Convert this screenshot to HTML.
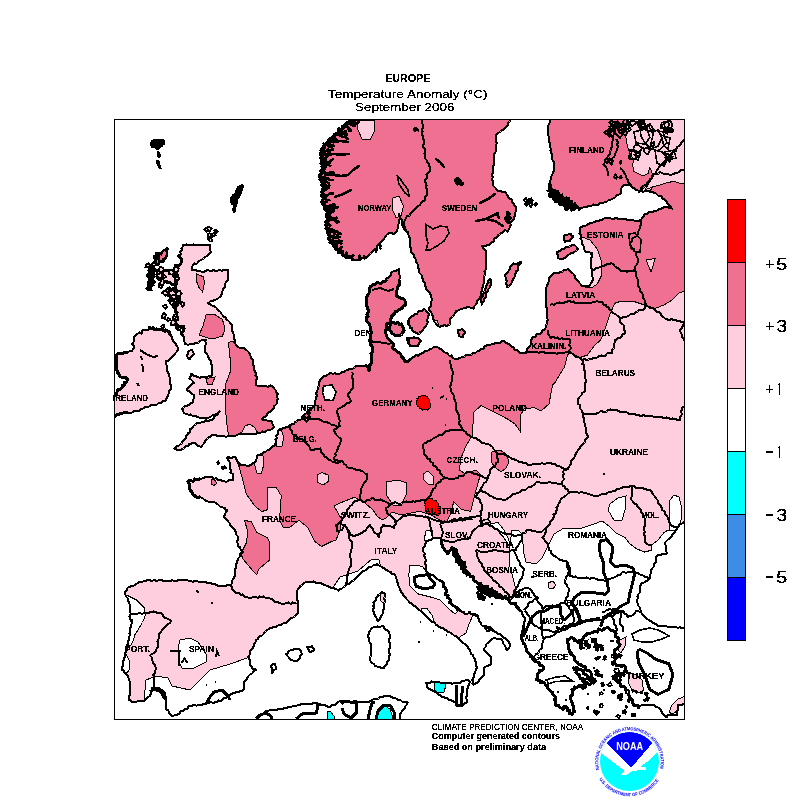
<!DOCTYPE html><html><head><meta charset="utf-8"><style>html,body{margin:0;padding:0;background:#fff}svg{display:block}text{font-family:"Liberation Sans",Arial,sans-serif}</style></head><body>
<svg width="800" height="800" viewBox="0 0 800 800" shape-rendering="crispEdges">
<defs><filter id="crisp" filterUnits="userSpaceOnUse" x="0" y="0" width="800" height="800"><feComponentTransfer><feFuncA type="discrete" tableValues="0 1 1"/></feComponentTransfer></filter><clipPath id="fr"><rect x="114.5" y="119.5" width="570" height="600"/></clipPath>
<path id="coastp" d="M352,100 L352,102 L352,103.5 L352,105.5 L352,107.5 L352,109 L352.5,111 L352.5,112.5 L352.5,114.5 L352.5,116.5 L353,118 L352.5,120 L350.5,120.5 L350.5,123.5 L348,123 L347,124.5 L345,125 L345,127.5 L342.5,127.5 L342.5,130 L340,130 L340,132.5 L339,134 L336.5,134 L334,134 L335,137.5 L332.5,137.5 L332,139.5 L329.5,139.5 L327.5,140 L327.5,142.5 L326.5,144 L323.5,143.5 L324,146 L325,148.5 L321,149.5 L323,152 L323.5,153.5 L321,155 L323,156.5 L322.5,158 L320.5,160 L323.5,161.5 L322,163.5 L322.5,165 L321.5,166.5 L322,168.5 L321,170 L322.5,172 L322.5,174 L320,175 L322,176.5 L320.5,179 L322,180.5 L323,182 L322.5,184 L323.5,185.5 L324,187.5 L324.5,189.5 L322,191 L322.5,193 L324,195 L322.5,196.5 L322.5,198 L322.5,200 L321.5,202.5 L323,204 L325.5,205 L323.5,208 L327.5,208.5 L327,210.5 L327.5,212.5 L326,214 L328.5,216 L327,218 L329,220 L326,221.5 L325.5,223 L326,225 L326.5,226.5 L325.5,228.5 L328.5,230 L327,232 L328,233.5 L328.5,235 L329.5,236.5 L328,238.5 L330,240 L329.5,242.5 L332,243 L332.5,244.5 L336,244.5 L334.5,247.5 L336,249 L337.5,250 L337.5,253 L339.5,253.5 L342.5,252.5 L343.5,254 L344,256 L347.5,254.5 L347.5,257.5 L349,258 L351,258 L352,260 L354,259.5 L356,259.5 L358,260.5 L360,260 L361.5,258.5 L363,258 L364.5,257.5 L366.5,257.5 L368,256 L369,254.5 L370.5,253.5 L371.5,252.5 L373,251.5 L374,250 L375.5,249 L377,247.5 L377.5,245.5 L378.5,244.5 L380,243 L381,241.5 L383,240.5 L384,239 L385,237 L386,235.5 L387.5,234 L389,233 L390.5,233 L392.5,233.5 L394,234 L395.5,232.5 L397,231 L397.5,229 L398,227 L398,225 L399,223 L398.5,221 L399.5,219.5 L400,218 L399.5,216 L399,214 L399.5,215.5 L400,217.5 L401,218.5 L402,220 L402,221.5 L402,223.5 L402,225 L403,227 L404,229 L405.5,229.5 L406.5,231.5 L408,232 L408,233.5 L408.5,235 L409,236.5 L410,238 L410,240 L410,241.5 L410.5,243 L410,245 L410,247 L411,248.5 L411.5,250 L411,252 L412.5,253 L413.5,254.5 L414,256 L414.5,257.5 L415.5,259 L416,260.5 L416,262 L417,263.5 L418,264.5 L418,266.5 L418,268 L419.5,269.5 L418.5,272 L420,273.5 L421.5,275 L422,277 L422.5,278.5 L423,280.5 L424,282 L425,283.5 L425,286 L426,287.5 L426,289.5 L428,290.5 L428.5,292 L430,293 L430.5,294.5 L431,296.5 L431.5,298 L432,300 L431,302 L431.5,304 L431,305.5 L430.5,307 L429,308 L428.5,310 L430,311 L431.5,312.5 L431.5,314.5 L433,315.5 L433,317.5 L433.5,319.5 L434,321.5 L435.5,323 L436.5,325 L438,326 L440,327 L441,326 L443,326 L444.5,325 L446.5,326 L448,325 L449.5,324.5 L450.5,323 L449.5,321 L450,319 L451,317.5 L452.5,316.5 L453.5,315.5 L454.5,314 L455.5,312.5 L456,310.5 L458,310.5 L459.5,310 L461,308.5 L463,308.5 L464.5,308 L466.5,307.5 L468,307 L470,307.5 L471.5,308 L473.5,308.5 L474,306.5 L475.5,305 L476.5,303.5 L477,301.5 L477.5,300 L479,299 L480,297.5 L480.5,296 L480.5,294 L481,292.5 L482,291 L482,289 L482.5,287.5 L482.5,285.5 L483.5,284 L484,282.5 L484,280.5 L484,278.5 L484,277 L484.5,275.5 L485,273.5 L484.5,271.5 L485.5,270 L486,268.5 L486,266.5 L486,265 L486,263 L485.5,261 L485.5,259.5 L486,258 L485.5,256 L486,254 L486,252.5 L485.5,250.5 L484,249 L483,247.5 L482,245.5 L484,246 L486,246 L487.5,245 L489,245.5 L490,244 L491,242.5 L493,242 L494,240.5 L494.5,238.5 L496,238 L497.5,236.5 L498,235 L499.5,234.5 L501,233 L502.5,233 L503.5,231 L505,230 L507.5,231.5 L508.5,230 L509.5,228 L509.5,226.5 L511,225 L510,223 L511,221.5 L513,220.5 L514,219 L514,216.5 L515.5,216 L515,213.5 L515.5,212 L515.5,210 L516.5,208 L515.5,206.5 L514,205.5 L513.5,203.5 L512,202.5 L512.5,200 L510.5,199 L509,198 L508,196.5 L507,195 L506,193 L504.5,192 L502.5,192 L500.5,191 L498.5,191.5 L497,190 L496,188.5 L494.5,187 L493,185.5 L492.5,184 L493,182 L492.5,180.5 L492,179 L493,177 L492,175.5 L492.5,173.5 L492.5,172 L493,170.5 L493,168.5 L493,167 L493.5,165.5 L493.5,163.5 L494,162 L493.5,160 L494,158.5 L494.5,157 L494,155 L494.5,153.5 L495.5,152 L495.5,150 L495.5,148.5 L496.5,146.5 L496,145 L497,143 L496,141.5 L496.5,140 L496,138 L496,136 L496,134.5 L497.5,133.5 L499,132.5 L500.5,131.5 L501.5,130.5 L503.5,130 L504.5,128.5 L505.5,127 L507,126 L508,124.5 L508,122.5 L509.5,121.5 L510.5,120 L511,118 L511,116 L510.5,114.5 L510.5,112.5 L510.5,111 L511,109 L511,107 L511,105.5 L511,103.5 L511,102 L511,100 L509,100 L507.5,100 L505.5,100 L504,100 L502,100 L500,100 L498.5,100 L496.5,100 L494.5,100 L493,100 L491,100 L489.5,100 L487.5,100 L485.5,100 L484,100 L482,100 L480.5,100 L478.5,100 L476.5,100 L475,100 L473,100 L471,100 L469.5,100 L467.5,100 L466,100 L464,100 L462,100 L460.5,100 L458.5,100 L457,100 L455,100 L453,100 L451.5,100 L449.5,100 L448,100 L446,100 L444,100 L442.5,100 L440.5,100 L438.5,100 L437,100 L435,100 L433.5,100 L431.5,100 L429.5,100 L428,100 L426,100 L424.5,100 L422.5,100 L420.5,100 L419,100 L417,100 L415,100 L413.5,100 L411.5,100 L410,100 L408,100 L406,100 L404.5,100 L402.5,100 L401,100 L399,100 L397,100 L395.5,100 L393.5,100 L392,100 L390,100 L388,100 L386.5,100 L384.5,100 L382.5,100 L381,100 L379,100 L377.5,100 L375.5,100 L373.5,100 L372,100 L370,100 L368.5,100 L366.5,100 L364.5,100 L363,100 L361,100 L359,100 L357.5,100 L355.5,100 L354,100Z M550.5,100 L550.5,102 L550.5,103.5 L550.5,105.5 L550.5,107 L550.5,109 L550.5,110.5 L550.5,112.5 L550.5,114.5 L551,116 L551,118 L550.5,119.5 L549.5,121.5 L549.5,123 L548.5,125 L547.5,126 L548,128 L547.5,130 L547.5,132 L547.5,134 L548.5,135.5 L548.5,137.5 L548.5,139.5 L549,141.5 L550,143 L549.5,145 L549.5,147 L551,148.5 L550.5,150.5 L551,152.5 L552,154.5 L552,156 L552,158.5 L552.5,160 L554,162 L554,164 L554,165.5 L553.5,167.5 L553.5,169.5 L553.5,171.5 L553,173 L552,175 L551,177 L551.5,179 L550,180.5 L549.5,182.5 L549.5,184.5 L551,186 L550,188 L549.5,190 L550.5,191.5 L552,192 L554.5,191.5 L555,194 L554.5,196 L555.5,197 L556,199 L559,199 L559,201 L560.5,201 L562.5,201 L563.5,203.5 L565.5,202.5 L567.5,202.5 L568.5,204 L570,206 L572,205 L572,207.5 L574,209 L575.5,207.5 L577.5,207 L579.5,209.5 L581.5,208 L583,207.5 L585,206.5 L587,207 L588.5,206 L590.5,206.5 L592,205.5 L593.5,204.5 L595.5,205.5 L597,204.5 L598.5,204.5 L600,203 L602,203 L603.5,203 L605,201.5 L607,201.5 L608,200.5 L609.5,200 L611,199.5 L613,198.5 L614.5,198 L616,196.5 L617,195 L619,194.5 L620.5,194 L620.5,192 L621,190 L621.5,188 L622.5,186 L624,185 L626,184.5 L628,184.5 L630,185.5 L631.5,186.5 L632.5,188 L634.5,188.5 L635.5,190 L637.5,190.5 L639.5,190.5 L641.5,191 L643,192 L645,191 L647,191.5 L648.5,191 L650.5,192 L652.5,192 L654,193 L655.5,193 L657,194.5 L658,195.5 L660,196 L661.5,196.5 L662,198.5 L664,199 L665,200 L666.5,201.5 L667,203 L669,204.5 L670,206 L671,207.5 L672.5,209 L671,207.5 L669,208 L667.5,207 L665.5,207 L663.5,207.5 L662,208 L660.5,209 L658.5,209.5 L657,210.5 L655,210.5 L653.5,211.5 L651.5,212 L649.5,212 L648,213 L646.5,214 L644.5,214 L644,216 L642.5,217.5 L641.5,219 L641,221 L639.5,220.5 L637.5,221 L635.5,221 L634,220.5 L632,220 L630.5,220.5 L628.5,220 L627,220 L625.5,219 L623.5,219 L622,218.5 L620,219 L618,219 L616.5,218 L614.5,218.5 L613,218.5 L611,218.5 L609.5,218 L608,217.5 L606,218 L604,218.5 L602.5,219.5 L600.5,219.5 L599,221 L597.5,221 L595.5,221.5 L594,222 L592,223 L590,223 L589,224 L587.5,224.5 L586,225.5 L584,225.5 L582.5,226.5 L581,227 L580,228 L579.5,230 L580,231.5 L579.5,233.5 L581,235 L581.5,236.5 L580.5,238.5 L581.5,240 L582.5,242 L582,244 L583,245.5 L584.5,247 L584,249 L585,251 L586.5,252 L588.5,252 L590,252.5 L592,252.5 L591,254 L592.5,256 L591.5,257.5 L591,259.5 L591,261 L590.5,263 L591,265 L591,266.5 L591.5,268.5 L592,270 L591.5,272 L591.5,273.5 L591.5,275 L592.5,277 L592.5,279 L592.5,280.5 L592,282 L590.5,284 L589.5,285.5 L587.5,286.5 L585.5,286 L583.5,286 L581.5,286 L580.5,284 L579.5,283 L578.5,281.5 L577.5,280 L576,279 L575,278 L575,276 L574,274.5 L573,273.5 L571.5,272.5 L570,271 L569,270 L567.5,269 L566,270.5 L564,270 L562.5,271.5 L560.5,272 L559,273 L557,273 L555,273 L553.5,273.5 L552.5,275 L551,275.5 L550,277 L549,278.5 L549,280.5 L548.5,282 L548,284 L547,285.5 L546.5,287 L546,289 L545.5,290.5 L545.5,292.5 L546,294.5 L546,296 L546,298 L545.5,300 L546,302 L545.5,303.5 L545.5,305.5 L546.5,307.5 L546.5,309.5 L546.5,311 L546.5,313 L546.5,315 L547,317 L547.5,318.5 L547.5,320.5 L547,322.5 L546.5,324.5 L546,326 L545.5,328 L544.5,330 L542.5,330.5 L541.5,332.5 L540,334 L538,334 L536.5,334.5 L536,336.5 L534,337 L532.5,337.5 L531.5,339.5 L531,341 L531,343 L530.5,345 L529.5,346.5 L528.5,348 L526.5,349 L526.5,351 L525,352.5 L523,352.5 L521.5,353 L519.5,352.5 L518,351.5 L517,350 L514.5,349.5 L513.5,347.5 L512,347 L510.5,346 L509,344 L507.5,343.5 L505.5,342.5 L504.5,341 L502.5,341 L501,342 L499.5,343 L498,343.5 L496,343 L494.5,343.5 L492.5,344 L491,344.5 L489,345 L487.5,345 L486,346 L484.5,346.5 L483.5,348.5 L481.5,348.5 L480,349.5 L479.5,351 L477.5,351 L476,352.5 L474.5,353 L472.5,353 L471.5,354.5 L469.5,355 L468,355.5 L466,355 L464.5,356.5 L463,357 L461,357.5 L459.5,358 L458,359 L456,359 L454,358.5 L452.5,358 L451.5,355.5 L449.5,356 L448,354.5 L447,353 L445,352.5 L443.5,351.5 L442.5,350 L441,349 L439.5,348.5 L438,347.5 L437,346.5 L435,346.5 L433,347.5 L431.5,349 L429.5,349.5 L428,350.5 L426,351 L424.5,351.5 L423,353 L421.5,353.5 L420,354 L418.5,356 L416.5,355 L415,356 L413.5,357 L412,358 L410.5,359 L409.5,360.5 L408,361.5 L405.5,361.5 L404,360 L403.5,358 L401.5,357 L401,355 L400,353 L398.5,352.5 L397,352 L396,350.5 L395,349 L393,349 L392.5,347 L393.5,345.5 L393,343.5 L391.5,342.5 L390.5,341 L389,339.5 L387.5,338 L386.5,336 L386,334 L385.5,332.5 L385.5,330.5 L387,329 L386,327.5 L386,326 L386.5,324 L389,323.5 L390,322 L390,320 L391,318.5 L391.5,316.5 L393,315 L394.5,313.5 L395.5,311.5 L397.5,311 L399,309.5 L401,309 L402.5,307.5 L403.5,306 L405.5,305 L405,303 L405,301 L404,299.5 L402.5,298.5 L400.5,298 L399,297.5 L397.5,296.5 L396,295.5 L396,293.5 L396.5,292 L397,290 L397,288 L398,286 L400,284.5 L399.5,282.5 L399,281 L399.5,279 L400,277.5 L400,276 L399,274 L399,272.5 L399,270.5 L399.5,269 L398,270 L396.5,270.5 L394.5,270.5 L393,271.5 L391.5,272 L390.5,273.5 L390.5,275.5 L389.5,277 L387.5,278 L386,279 L386,281 L384.5,281.5 L382.5,282 L381,283.5 L379,283 L377,282.5 L375.5,284 L373.5,284.5 L372,285.5 L370.5,286.5 L369.5,288.5 L369.5,290.5 L369.5,292 L368.5,294 L367.5,295.5 L366.5,297 L366.5,299 L366,301 L366.5,302.5 L367,304 L366.5,306 L367.5,307.5 L367.5,309 L368.5,310.5 L368,312.5 L367,314.5 L368,316.5 L366,318 L366.5,320 L367,321.5 L368.5,323 L369.5,324 L370,326 L370,327.5 L371,329 L370.5,330.5 L371.5,332.5 L371,334 L370,336 L370,337.5 L370,339.5 L369.5,341 L370.5,342.5 L370.5,344.5 L372,346 L372.5,348 L372.5,350 L372.5,351.5 L371,353.5 L371.5,355 L371,357 L371.5,358.5 L371.5,360.5 L371,362 L371,364 L369.5,365.5 L369.5,367.5 L370,369.5 L369.5,371 L368,370 L368,367.5 L367,366 L365,365.5 L363.5,366 L361.5,366.5 L360,366 L358,366 L356,366 L354.5,367.5 L353,368.5 L351,368.5 L349,369 L347.5,370 L346,370.5 L344.5,371.5 L343,371.5 L341.5,372.5 L340,373.5 L338,373.5 L336.5,374 L335,373 L333,374 L331,373 L329.5,373.5 L328,374.5 L326.5,375.5 L325,375.5 L323.5,376.5 L322.5,378 L320.5,379 L320,381 L319,382.5 L319,384.5 L318.5,386.5 L318,388 L317.5,390 L317,392 L316,393.5 L317,395.5 L316,397.5 L316,399.5 L314.5,401 L315.5,403 L314.5,405 L313.5,406.5 L312.5,408 L311,409 L309,409.5 L308,411 L307,412.5 L305.5,414 L304,415 L303,416.5 L302.5,418.5 L301,419.5 L299.5,420.5 L297.5,420 L296.5,421.5 L295,422 L294,424 L292,424 L290.5,425 L289,426 L287.5,427 L285.5,427.5 L283.5,428 L282,429 L280,429 L278,430.5 L278,432.5 L277.5,434.5 L276,436 L277,438 L275.5,439.5 L276,442 L275.5,443.5 L275,445.5 L273.5,446 L272,447 L270.5,448.5 L269.5,450 L267.5,450 L266,451.5 L264,451.5 L263,453 L261.5,454 L260,454.5 L258.5,455 L257,456 L257,458 L256,460 L255.5,462 L254,462.5 L252.5,463.5 L251,465 L249.5,465.5 L247.5,465.5 L246,465.5 L244,464.5 L242.5,465.5 L240.5,464.5 L239,465 L239,463 L237.5,461.5 L236.5,459.5 L236,457.5 L234,457 L232.5,457.5 L230.5,458 L229,457 L227,457.5 L228,459.5 L229,461 L230,463 L230,465 L230,467 L230,469 L231,470.5 L230.5,472.5 L233,474 L233,476 L232.5,478 L233,480 L231,479.5 L229,480 L227,481.5 L225,481.5 L223,481 L221.5,480.5 L219.5,480 L217.5,479.5 L216,478 L214,479 L212.5,477 L210.5,477 L208.5,477 L207,477 L205,477 L203.5,478 L202,478.5 L200,478.5 L198.5,479.5 L196.5,479.5 L194.5,479 L193.5,481 L191.5,481 L189.5,480.5 L188,481.5 L189,483.5 L189.5,485 L190,487 L189.5,489 L190.5,490.5 L192,492 L192,494 L194,495 L195.5,496.5 L197,497.5 L199.5,497 L201,497.5 L203,498.5 L204.5,500 L206,501 L207.5,501.5 L209.5,501.5 L211.5,501.5 L213,502 L215,502.5 L216.5,503.5 L218,504.5 L219,505.5 L220.5,507 L222.5,507.5 L224.5,507.5 L225,509.5 L227,510 L226.5,511.5 L225.5,513 L225,514.5 L224,516 L224.5,517.5 L226.5,519 L227.5,520.5 L228.5,522 L229.5,523 L230,525 L231,526.5 L232.5,527.5 L234,529 L235,530.5 L236,532.5 L236,534.5 L237.5,536 L237.5,538 L238,539.5 L237,541 L237.5,543 L237.5,545 L238,546.5 L240,547 L240.5,549 L241.5,550.5 L243,552 L241.5,553 L240,554 L240,556.5 L239,557.5 L237.5,559 L237.5,560.5 L237,562.5 L236,564 L236,565.5 L236,567.5 L235,569 L235.5,571 L234.5,572.5 L234.5,574.5 L234.5,576.5 L234,578 L233,579.5 L231.5,581 L232,583.5 L230.5,585 L228.5,585 L227,585 L225.5,586 L223.5,586 L222,586.5 L220,586 L218,586 L216.5,585 L215,584 L213.5,583.5 L211.5,583.5 L210,582.5 L208,583 L206.5,582.5 L204.5,582 L202.5,582.5 L201,582 L199,582 L197,581 L195.5,581 L193.5,581.5 L191.5,581.5 L190,581 L188,580.5 L186,580 L184.5,580.5 L182.5,580 L181,580.5 L179,580 L177.5,580.5 L175.5,581 L174,581 L172,580 L170.5,581 L169,581 L167,581 L165,581 L163.5,581 L162,580 L160,580 L158,580.5 L156.5,581 L155,580 L153,580.5 L151,581 L149.5,580 L147.5,580 L146,581 L144,581 L142,582 L140,581.5 L138.5,582.5 L137,583.5 L135.5,584.5 L134,585.5 L132,585.5 L130.5,586.5 L129,586.5 L127.5,588 L127,590 L125.5,591.5 L125,593.5 L125.5,595 L126,596.5 L127.5,598 L128,599.5 L128.5,601.5 L128.5,603 L130,604.5 L130.5,606 L130,608 L129.5,609.5 L129.5,611 L130.5,613 L130.5,614.5 L129.5,616.5 L130,618 L130.5,619.5 L132,620 L131.5,621.5 L132,623.5 L130.5,625 L131,627 L130,628.5 L130,630.5 L130,632 L129.5,633.5 L130,635.5 L128.5,637 L129,639 L128.5,640.5 L128,642 L128,644 L127,645.5 L127.5,647.5 L127,649.5 L126,651 L125.5,652.5 L125,654.5 L125,656.5 L124,658 L124,660 L123,661.5 L122.5,663 L123.5,665 L122.5,666.5 L122,668 L122,670 L123.5,670.5 L124,672.5 L126,673 L126.5,675 L128,676 L128.5,677.5 L128.5,679.5 L129.5,681 L129.5,682.5 L129.5,684.5 L130,686 L130,688 L129.5,689.5 L129.5,691.5 L129.5,693 L130,695 L129,696.5 L129,698.5 L129,700 L130.5,700.5 L132,702 L133.5,702 L135.5,702 L137,701.5 L139,701 L140.5,701 L142,700.5 L144,701 L145,699.5 L147,698.5 L148,697 L150,696 L150.5,694.5 L151,693 L150.5,691 L152,689.5 L152,688 L154,688.5 L155,690 L156.5,690.5 L158.5,691 L160,692 L161.5,693 L162,694.5 L163,696 L163.5,697.5 L165.5,698.5 L166,700 L165.5,702 L165.5,704 L165.5,706 L166,708 L166.5,709.5 L168.5,710.5 L168.5,712.5 L170,713.5 L170.5,715 L172,716 L173.5,716 L175,714.5 L176.5,715 L178,714 L180,713.5 L180.5,711.5 L182.5,711 L184,710.5 L185,708.5 L187.5,708.5 L188.5,706.5 L190,706 L192,706 L193.5,705 L195.5,705.5 L197,705.5 L199,704.5 L200.5,704.5 L202.5,704.5 L204,704 L206,704 L207.5,703 L209.5,702.5 L211,702 L213.5,703 L215,702 L217,702 L218.5,700.5 L220.5,701 L222,700 L223.5,698.5 L225.5,698 L227.5,697 L229,696 L230.5,694.5 L232.5,694 L233.5,692.5 L235.5,692.5 L237,692 L239,692 L240.5,691 L242.5,691 L243.5,689.5 L243.5,687.5 L243.5,685.5 L244,684 L244,682 L245,680.5 L247,679.5 L247.5,677.5 L248.5,676 L250,674.5 L251.5,674 L253,672.5 L254,671 L256,670 L254.5,668.5 L252.5,668.5 L252,666.5 L250,665.5 L249.5,664 L249.5,662 L250,660 L249,658.5 L248.5,656.5 L249.5,655 L250,653.5 L250,651.5 L251,650 L252,649 L253,647.5 L254,645.5 L254.5,643.5 L255.5,642 L256,640 L258,639 L258.5,637 L260.5,636 L262,635.5 L263.5,634 L264,632.5 L265.5,631.5 L266.5,630.5 L268,629.5 L269.5,628.5 L271.5,628 L273,627 L275,627 L276.5,626.5 L278,625.5 L280,625 L281.5,624.5 L283,623.5 L284.5,622.5 L286.5,622.5 L287.5,621 L289,620.5 L290,619 L291,618 L293,617.5 L294.5,616.5 L295.5,615.5 L296.5,614 L298,613 L297.5,611 L297.5,609.5 L298,607.5 L298,606 L298,604 L297.5,602 L297.5,600.5 L297,598.5 L297.5,596.5 L296.5,595 L297.5,593 L297,591 L298,589 L299.5,588 L300,586 L301.5,585.5 L302.5,584 L304,583 L306,582 L308,581.5 L310,581.5 L311.5,582 L313.5,581.5 L315.5,582.5 L317,583.5 L319,583 L321,583 L322.5,584 L324.5,585 L326,585.5 L328,586 L329.5,587 L331.5,588 L333.5,588 L335,589 L337,589.5 L338.5,590.5 L339.5,589 L342,588.5 L343,587.5 L344.5,586.5 L346,585 L347,583.5 L349.5,583.5 L350.5,582.5 L352,581 L353.5,580.5 L355,579 L356.5,578 L357.5,576.5 L358.5,575.5 L360,574.5 L361,573 L362.5,571.5 L364,571 L366,570 L367.5,569 L368.5,567.5 L370.5,567 L372,566.5 L373.5,565 L375.5,565 L377,564 L378.5,565 L379.5,566 L381,566.5 L382.5,567.5 L384.5,568 L385.5,569.5 L387.5,570 L388.5,571.5 L390.5,571.5 L391.5,573.5 L394,573.5 L395,575 L396,577 L396.5,578.5 L396.5,580.5 L397.5,582.5 L397.5,584.5 L398.5,586 L399.5,587.5 L399.5,589.5 L401,590.5 L401,592.5 L403,594 L403.5,596 L405,597 L406,598.5 L407.5,600 L409,601.5 L410,603 L412,603.5 L413,605.5 L415,606 L416.5,607.5 L417.5,609 L419.5,610 L421,611.5 L422.5,612.5 L423.5,614 L425,615 L426.5,616 L427.5,617.5 L429,618.5 L430,620 L431,621.5 L433.5,622 L435,623 L436,625 L438,625.5 L439,627 L440.5,627.5 L442.5,628 L444,628.5 L445,630 L447,630.5 L448,632 L450,632.5 L451.5,633.5 L453,634.5 L454.5,636 L456.5,636 L457.5,637.5 L459,639 L460.5,640 L461.5,641.5 L463,643 L465,644 L466,645.5 L468,646.5 L468.5,649 L470,650 L470.5,652 L471,654 L473,655 L473.5,657 L474.5,658.5 L475,660.5 L476,662 L475.5,664 L476,666 L477,667.5 L476,669 L475.5,671 L475,673 L474,674.5 L474,676.5 L473,678.5 L472,680 L473,681.5 L472.5,683.5 L473.5,685 L474.5,684 L476,683 L477.5,682.5 L479,681.5 L479.5,679.5 L480.5,678.5 L481.5,677 L483,676 L484,674.5 L484,673 L483.5,671 L484.5,669 L484,667.5 L486,666.5 L487.5,666 L489.5,665 L491,664 L490.5,662 L491,660.5 L491,659 L491,657 L490,655.5 L488,654.5 L487,652.5 L485.5,651.5 L484,650 L484.5,648 L486,646.5 L486,644.5 L487.5,643 L489,642.5 L490,640.5 L491.5,639.5 L493,638.5 L494.5,638 L496,638.5 L498,639.5 L500,638.5 L501.5,639.5 L502.5,641 L503,642.5 L503.5,644 L505,645.5 L505.5,647 L506,648.5 L507,650 L508,649 L509,647.5 L510,646.5 L510.5,644.5 L509,643 L508.5,641 L507,640.5 L506,638.5 L504,638 L502.5,637 L501.5,635.5 L500,634 L498,634 L497,632.5 L495.5,632 L494,631 L492.5,630.5 L490.5,630 L489,629 L487.5,628 L485.5,627.5 L484,626 L482,625.5 L481,624.5 L481,622.5 L479.5,621.5 L479,619.5 L478,618 L478.5,616 L477,615 L475,614 L473,613.5 L471,614 L469.5,612.5 L467.5,614 L465.5,614 L463.5,612.5 L462,612 L460,611 L459,609.5 L457.5,608 L455.5,607 L454,606 L452.5,605 L451,603.5 L449.5,602.5 L450.5,600 L449,598.5 L447.5,597.5 L448,595.5 L445.5,594.5 L446,592.5 L446.5,590.5 L445.5,589 L445,587.5 L443,586.5 L443,584.5 L443,582 L441,581 L439.5,580.5 L438,579.5 L436.5,578.5 L435.5,577 L434,576 L432.5,575 L430.5,574.5 L429,573.5 L427.5,572.5 L426,571 L426,569.5 L426,568 L425.5,566 L425.5,564.5 L425,562.5 L426,561 L425.5,559 L425,557.5 L424,555.5 L425,553.5 L423.5,552 L423,550 L423,548 L424.5,547 L425,545 L425.5,543.5 L426,542 L427.5,541 L429,540 L430.5,540 L432,539 L434,538 L435.5,538 L437.5,537.5 L439.5,537.5 L441.5,539 L441.5,541 L441,543.5 L442.5,545 L442.5,547 L444,548 L444.5,549.5 L445.5,551 L447.5,552 L447,554 L448.5,552.5 L449,551 L451,550 L451.5,548 L452.5,549.5 L454.5,549 L456,549.5 L456.5,551.5 L456,553 L457.5,554.5 L459,556.5 L458,558.5 L459,560 L459,562 L460.5,563.5 L462,565 L463.5,566 L463.5,568 L465,569.5 L466,571 L467.5,572 L469,573 L469.5,575 L470.5,576.5 L473,576.5 L473.5,578.5 L474,580.5 L475.5,581.5 L477,582.5 L478.5,584 L480.5,583.5 L481.5,585 L483,586 L484.5,587 L486,588.5 L488,588.5 L490,590 L491,591.5 L492,592.5 L494.5,591.5 L495.5,593.5 L497,594.5 L499,594 L500,595 L501.5,596 L502.5,598.5 L505.5,596.5 L506,599 L508,598.5 L509,600.5 L510,602.5 L511,603.5 L513,603.5 L515.5,603.5 L516,606 L517,607 L518.5,608.5 L519.5,610 L521,611 L522,613 L522.5,614.5 L523.5,616.5 L525,618 L524.5,619.5 L524.5,621.5 L523.5,623 L524,625 L523,626.5 L523,628.5 L523,630.5 L522,632 L522.5,634 L521,635.5 L521.5,637.5 L521,639 L522.5,640 L523,642 L523.5,643.5 L525,644.5 L525,646.5 L526,648 L526.5,649.5 L527,651.5 L528.5,653 L530,654.5 L530,656.5 L532,656.5 L532.5,659 L534,659.5 L535,661.5 L537,662 L539,662.5 L539.5,665 L541.5,665.5 L543,666.5 L544,668 L543,669.5 L542,671 L539.5,670.5 L539,672.5 L537.5,674 L537.5,676 L537.5,678 L536.5,679.5 L538,680.5 L540,680 L540.5,683 L542.5,682 L544.5,683 L545.5,685 L547.5,685.5 L547.5,687.5 L548,689 L550,690 L551,691.5 L552.5,692.5 L553,695 L554.5,696 L556,698 L554,700 L556,701.5 L555.5,703.5 L556,705.5 L558.5,705.5 L559,707 L561,708 L563,709.5 L563.5,707 L565,706 L566,707 L567.5,708.5 L567.5,710.5 L570,710.5 L569.5,713.5 L571.5,713.5 L572,715 L572.5,713 L574.5,711.5 L573.5,710 L573.5,707.5 L573.5,706 L572.5,704.5 L572,702.5 L571,701 L571,699.5 L570,698 L570,696 L572,695.5 L572.5,693.5 L572,691.5 L572,689.5 L575,689 L574.5,687 L576.5,687.5 L578,687 L579.5,685.5 L581.5,685.5 L582,688 L584,688 L585.5,686.5 L584.5,684 L586.5,683 L584,684 L584,680.5 L582,681 L583.5,681 L585,679.5 L587,678.5 L589,679.5 L591,680 L592.5,681.5 L593.5,683 L595,681.5 L595,679.5 L593,678.5 L591.5,677 L591,675 L591,672.5 L589.5,671 L587.5,670 L585.5,670 L585.5,667 L583,666.5 L581.5,665.5 L580,664 L578,664 L577.5,662.5 L576,662 L574.5,659.5 L574.5,657 L573,655.5 L571,654.5 L571.5,653 L569,652 L570,650 L568.5,649 L568.5,646.5 L568.5,644.5 L567.5,643 L567.5,641 L567.5,639 L570,639 L571,637 L572,638 L574,638.5 L574.5,640.5 L577,641 L578,643 L579,640.5 L581.5,640.5 L583,639 L583,637 L585,636 L586.5,634.5 L588,633 L590,633.5 L592,632.5 L593.5,632 L595.5,631.5 L597.5,632 L598.5,629 L601,630 L603,630 L604.5,628.5 L606,628 L608,627.5 L609,628.5 L610,630 L612,630 L613.5,631 L615,632.5 L616,634 L615.5,636.5 L617.5,637.5 L619,639 L617.5,641 L618,643 L620,644.5 L619,646.5 L617.5,648 L616.5,649 L614.5,650 L614.5,652.5 L615.5,654.5 L614,657 L616,658.5 L615,660 L614.5,661.5 L612.5,662.5 L613,664.5 L615,663 L616.5,665.5 L618,665.5 L620,665 L621.5,666.5 L623.5,665.5 L625,666 L625.5,668 L626,670 L626.5,672 L624.5,671.5 L623.5,674 L621.5,674 L620,674.5 L618,674.5 L616,674.5 L615,676.5 L613,676.5 L613,678.5 L615.5,679.5 L616,681 L617.5,682 L619.5,682.5 L620.5,684 L621,686.5 L623,686.5 L625,687 L625,689 L627,690 L628,691 L628.5,692.5 L628.5,694.5 L629.5,696 L630,697.5 L630,699.5 L633,700 L632.5,702 L633,703.5 L634,705.5 L636,705.5 L638.5,706 L638.5,708 L640,706.5 L641.5,705 L644,705 L646,705 L648,705.5 L650,705 L651.5,705 L653.5,705 L655,706 L656,707 L658,707.5 L659.5,708 L660.5,709.5 L661,711 L662,712.5 L663,714 L664,715.5 L665.5,716.5 L667,717 L667.5,715.5 L669,714.5 L670.5,715 L672.5,714.5 L674,715 L676,714.5 L677.5,715 L677,713.5 L677,711.5 L678,710 L678,708.5 L677.5,706.5 L677.5,705 L679,704.5 L681,705 L682.5,704.5 L684,704 L686,704 L687.5,703.5 L689.5,703.5 L691,704 L693,704 L694.5,704 L696.5,704 L698,704 L700,704 L700,702 L700,700.5 L700,698.5 L700,697 L700,695 L700,693 L700,691.5 L700,689.5 L700,688 L700,686 L700,684 L700,682.5 L700,680.5 L700,679 L700,677 L700,675 L700,673.5 L700,671.5 L700,670 L700,668 L700,666 L700,664.5 L700,662.5 L700,661 L700,659 L700,657.5 L700,655.5 L700,653.5 L700,652 L700,650 L700,648.5 L700,646.5 L700,644.5 L700,643 L700,641 L700,639.5 L700,637.5 L700,635.5 L700,634 L700,632 L700,630.5 L700,628.5 L698,628.5 L696.5,628.5 L694.5,628.5 L692.5,628.5 L691,628.5 L689,628.5 L687,629 L685.5,628.5 L683.5,628.5 L681.5,628 L680,627 L678,628 L676,627 L674,627 L672,627.5 L670,627 L668,627.5 L666.5,626 L665,626.5 L663,625.5 L661,626 L659.5,626 L657.5,626 L656.5,624.5 L655,624 L654,622.5 L652,622.5 L651,621 L649.5,620.5 L648,619.5 L646.5,618.5 L645.5,617 L644,616.5 L643,615 L642,613.5 L641,612.5 L641,610.5 L639.5,609 L639.5,607 L638,605.5 L638,603.5 L636.5,602 L636.5,600 L638,598.5 L637.5,596.5 L638,594.5 L639.5,593 L639.5,591 L639.5,589.5 L640.5,588 L640,586 L641,584.5 L642,583 L644,582.5 L645.5,581.5 L647.5,580.5 L648.5,579.5 L650,578 L649.5,576 L650.5,574 L651,572 L651,570 L652,568.5 L653.5,567 L654,565 L654.5,563 L656,562 L656,560 L655.5,558 L656.5,556.5 L657.5,555 L659.5,555 L661,555 L662.5,553.5 L664.5,553.5 L666.5,553.5 L666.5,551.5 L665.5,550 L666.5,548 L666,546 L665,544 L665.5,542 L667,540.5 L668,539.5 L669.5,538.5 L671,537.5 L672,536 L672.5,534 L674.5,533 L675,531.5 L676,530 L677,528.5 L678,527 L679,525.5 L680,524 L682,523.5 L684,522 L686,522.5 L687.5,522.5 L689.5,522 L691,522 L693,522 L694.5,522 L696.5,522 L698,522 L700,522 L700,520 L700,518.5 L700,516.5 L700,515 L700,513 L700,511 L700,509.5 L700,507.5 L700,506 L700,504 L700,502 L700,500.5 L700,498.5 L700,497 L700,495 L700,493 L700,491.5 L700,489.5 L700,487.5 L700,486 L700,484 L700,482.5 L700,480.5 L700,478.5 L700,477 L700,475 L700,473.5 L700,471.5 L700,469.5 L700,468 L700,466 L700,464.5 L700,462.5 L700,460.5 L700,459 L700,457 L700,455.5 L700,453.5 L700,451.5 L700,450 L700,448 L700,446.5 L700,444.5 L700,442.5 L700,441 L700,439 L700,437 L700,435.5 L700,433.5 L700,432 L700,430 L700,428 L700,426.5 L700,424.5 L700,423 L700,421 L700,419 L700,417.5 L700,415.5 L700,414 L700,412 L700,410 L700,408.5 L700,406.5 L700,405 L700,403 L700,401 L700,399.5 L700,397.5 L700,396 L700,394 L700,392 L700,390.5 L700,388.5 L700,386.5 L700,385 L700,383 L700,381.5 L700,379.5 L700,377.5 L700,376 L700,374 L700,372.5 L700,370.5 L700,368.5 L700,367 L700,365 L700,363.5 L700,361.5 L700,359.5 L700,358 L700,356 L700,354.5 L700,352.5 L700,350.5 L700,349 L700,347 L700,345.5 L700,343.5 L700,341.5 L700,340 L700,338 L700,336 L700,334.5 L700,332.5 L700,331 L700,329 L700,327 L700,325.5 L700,323.5 L700,322 L700,320 L700,318 L700,316.5 L700,314.5 L700,313 L700,311 L700,309 L700,307.5 L700,305.5 L700,304 L700,302 L700,300 L700,298.5 L700,296.5 L700,295 L700,293 L700,291 L700,289.5 L700,287.5 L700,286 L700,284 L700,282 L700,280.5 L700,278.5 L700,276.5 L700,275 L700,273 L700,271.5 L700,269.5 L700,267.5 L700,266 L700,264 L700,262.5 L700,260.5 L700,258.5 L700,257 L700,255 L700,253.5 L700,251.5 L700,249.5 L700,248 L700,246 L700,244.5 L700,242.5 L700,240.5 L700,239 L700,237 L700,235.5 L700,233.5 L700,231.5 L700,230 L700,228 L700,226 L700,224.5 L700,222.5 L700,221 L700,219 L700,217 L700,215.5 L700,213.5 L700,212 L700,210 L700,208 L700,206.5 L700,204.5 L700,203 L700,201 L700,199 L700,197.5 L700,195.5 L700,194 L700,192 L700,190 L700,188.5 L700,186.5 L700,185 L700,183 L700,181 L700,179.5 L700,177.5 L700,175.5 L700,174 L700,172 L700,170.5 L700,168.5 L700,166.5 L700,165 L700,163 L700,161.5 L700,159.5 L700,157.5 L700,156 L700,154 L700,152.5 L700,150.5 L700,148.5 L700,147 L700,145 L700,143.5 L700,141.5 L700,139.5 L700,138 L700,136 L700,134.5 L700,132.5 L700,130.5 L700,129 L700,127 L700,125 L700,123.5 L700,121.5 L700,120 L700,118 L700,116 L700,114.5 L700,112.5 L700,111 L700,109 L700,107 L700,105.5 L700,103.5 L700,102 L700,100 L698,100 L696.5,100 L694.5,100 L693,100 L691,100 L689,100 L687.5,100 L685.5,100 L684,100 L682,100 L680,100 L678.5,100 L676.5,100 L674.5,100 L673,100 L671,100 L669.5,100 L667.5,100 L665.5,100 L664,100 L662,100 L660.5,100 L658.5,100 L656.5,100 L655,100 L653,100 L651.5,100 L649.5,100 L647.5,100 L646,100 L644,100 L642.5,100 L640.5,100 L638.5,100 L637,100 L635,100 L633.5,100 L631.5,100 L629.5,100 L628,100 L626,100 L624,100 L622.5,100 L620.5,100 L619,100 L617,100 L615,100 L613.5,100 L611.5,100 L610,100 L608,100 L606,100 L604.5,100 L602.5,100 L601,100 L599,100 L597,100 L595.5,100 L593.5,100 L592,100 L590,100 L588,100 L586.5,100 L584.5,100 L583,100 L581,100 L579,100 L577.5,100 L575.5,100 L573.5,100 L572,100 L570,100 L568.5,100 L566.5,100 L564.5,100 L563,100 L561,100 L559.5,100 L557.5,100 L555.5,100 L554,100 L552,100Z M182.5,245 L184.5,245 L186.5,244.5 L188,245.5 L190,245 L192,245.5 L193.5,244.5 L195.5,245 L197.5,245.5 L199,245 L201,245 L203,244.5 L204.5,244.5 L206.5,245 L208.5,244.5 L210,244.5 L210,246.5 L210.5,248 L210,250 L211,252 L209.5,253 L208.5,254.5 L207.5,256 L206,256.5 L204.5,257.5 L203.5,258.5 L202,259.5 L200,260.5 L198.5,261.5 L197.5,263 L196.5,264 L194.5,263.5 L193,264.5 L192.5,266 L192,268 L192,270 L194,270.5 L195.5,270 L197.5,271.5 L199,271 L201,271.5 L202.5,271.5 L204.5,271.5 L206.5,270.5 L208,270 L210,271 L212,271 L213.5,270 L215.5,271 L217,271 L219,270 L221,270.5 L222.5,270.5 L224.5,270 L226,269.5 L228,270 L228.5,271.5 L228,273.5 L228,275 L228.5,276.5 L228,278.5 L228,280 L226,281.5 L225.5,283 L225,285 L225,286.5 L224,288 L223,289.5 L222.5,291 L222,293 L221.5,294.5 L221,296 L219.5,297 L218,298.5 L216,299.5 L214,300 L212.5,301 L210.5,301 L209,302.5 L207.5,303 L209,304 L210.5,304.5 L212,305.5 L214,306 L215.5,307 L217,308.5 L217.5,310 L219.5,311 L220.5,312 L221.5,314 L222.5,315 L223.5,317 L225.5,317.5 L226.5,319.5 L228,320.5 L229.5,322 L230.5,323.5 L232,325 L232.5,326.5 L231.5,329 L232,330.5 L233,332 L233.5,333.5 L233.5,335.5 L234.5,337 L234,339 L235,340.5 L234.5,342.5 L235.5,344 L236,345.5 L237.5,346.5 L239,347.5 L241.5,347.5 L243.5,348 L245,349 L246.5,350 L248,351.5 L249,352.5 L250,354 L250.5,356 L251,358 L252.5,359 L253,360.5 L252.5,362.5 L252.5,364.5 L254,366 L253.5,368 L254,369.5 L255,371.5 L256,373 L255.5,375.5 L257,377 L257,379 L256,380.5 L255.5,382.5 L255.5,384.5 L257,385.5 L258.5,385.5 L260,386 L261.5,386 L263.5,386 L265,385.5 L267,386.5 L268.5,386.5 L270.5,385.5 L272,386 L273.5,387 L274.5,389 L276,390.5 L276.5,392.5 L278,393.5 L277,395 L277,397 L278,399 L276.5,400.5 L276.5,402 L276.5,404 L275,405.5 L273.5,406.5 L273.5,409 L272,410 L271,411.5 L269.5,412 L268,413 L267,414.5 L266,416 L264.5,417 L263,418 L261.5,419 L263,420 L265,419.5 L267,420.5 L268.5,420.5 L270.5,421 L272,422 L272.5,424 L273.5,426 L273.5,428 L272,429 L270,430 L268,430 L266,431 L264.5,432 L262.5,431.5 L261,432.5 L259.5,433.5 L257.5,432.5 L256,434 L254,434 L252.5,433.5 L250.5,433.5 L249,433.5 L247,434.5 L245.5,434 L243.5,434.5 L242,434 L240,434 L238,434.5 L236,435.5 L234,435.5 L232.5,436 L230.5,436.5 L229,436 L227,436.5 L225,436.5 L223.5,436 L221.5,436.5 L219.5,436 L217.5,436 L216,435 L214,435 L212,435 L211,436.5 L208.5,437 L207.5,438.5 L206,439.5 L205,441 L204.5,442.5 L203.5,444 L202,445.5 L201.5,447 L200,446.5 L198.5,446 L197,445 L195.5,444 L194.5,442.5 L192.5,442.5 L191.5,444 L189,444 L188.5,446 L186,446 L185,447 L183.5,448.5 L182,449 L180.5,450 L178.5,450 L176.5,449.5 L174.5,448.5 L175.5,447 L177,446 L179,445.5 L180,444.5 L181.5,443.5 L182,441.5 L183.5,440.5 L185,439.5 L186,438 L186,436 L187.5,435 L187.5,433.5 L189.5,432.5 L189.5,430.5 L190,429 L192,428.5 L193,426.5 L194,425.5 L195.5,424.5 L197,423 L199,423.5 L201,422.5 L202.5,421.5 L204.5,421.5 L206.5,421 L208.5,421.5 L210,420 L212,420 L213.5,418.5 L214,417 L215.5,415.5 L217.5,414.5 L218.5,413 L219.5,411.5 L218,412.5 L217,413.5 L215.5,414.5 L213.5,414.5 L212,415.5 L210.5,417 L209,417.5 L207.5,418 L206,419 L204.5,418 L202.5,417.5 L201,417.5 L199,417.5 L197,417 L195.5,416 L194,415.5 L192,415.5 L190.5,414.5 L188.5,415 L187,413.5 L185,413.5 L183.5,413 L183.5,411.5 L183,410 L182,408.5 L183.5,407.5 L184.5,406 L187,406.5 L188,405 L190,404.5 L191,403 L192.5,402.5 L192.5,400.5 L193.5,399 L193.5,397 L194,395 L192,394 L191,392.5 L189.5,391.5 L187.5,390.5 L186.5,389 L188,388 L189.5,386.5 L191,385.5 L192,384 L194,383 L193,381.5 L192,380.5 L191,379.5 L189.5,378.5 L190,377 L191,375.5 L191,374 L192.5,374.5 L194,376 L196,375.5 L197,377 L199,377.5 L200.5,377.5 L202.5,377 L204,377 L206,377 L208,376.5 L210,376 L212,375.5 L211.5,374 L212.5,372 L211.5,370 L211.5,368.5 L211.5,367 L212,365 L211,363.5 L211,361 L209,359.5 L209,357.5 L207.5,356.5 L207.5,354.5 L206,353 L205,352 L204.5,350 L205,348.5 L205,346.5 L205.5,345 L206,343 L205,341 L206,339.5 L204,339.5 L202,340 L200,341 L198.5,342.5 L196.5,343 L194.5,343.5 L192.5,344 L190.5,344 L189,344.5 L187,344.5 L185,344 L184.5,342 L183.5,340.5 L183.5,338.5 L184,336.5 L182,335 L181,333 L183,331.5 L184,330 L182.5,327.5 L184,326 L182,326 L180,326 L179,328.5 L177,329 L176.5,327.5 L177.5,325.5 L176.5,324 L175.5,322.5 L175.5,320.5 L177.5,319.5 L177,317.5 L176,315.5 L176,314 L177,312.5 L175.5,311.5 L175,310 L175.5,307.5 L173,307 L175,306.5 L177,305.5 L178,303.5 L178.5,301.5 L180,300 L177.5,297.5 L179.5,296.5 L180,294.5 L179.5,292.5 L178,291.5 L175,292 L174.5,290.5 L174.5,289 L176,287.5 L175.5,285.5 L176.5,284 L177,282 L175,281 L176,279 L175.5,277.5 L173.5,276 L174.5,274 L173.5,272 L176.5,271 L176,269 L177,267.5 L175.5,265.5 L177.5,265 L180,265 L181,263 L182,261 L181.5,259 L180,257.5 L178.5,255.5 L181,254 L180,252 L182,250.5 L181.5,248.5 L182.5,247Z M132,344 L133.5,342 L133.5,340 L133.5,338 L134.5,336 L136,335 L138,333.5 L139.5,332.5 L141.5,333.5 L142.5,330.5 L144,330 L146,330 L148,330 L149,327.5 L151.5,328.5 L153,327.5 L154,330 L156.5,329 L158,330 L160,329 L162,330 L164,330 L166,330 L168,331 L169.5,332.5 L169.5,335 L171.5,336 L172,337.5 L172.5,339.5 L173,341 L174.5,342.5 L176,344.5 L177,346 L178,348 L178,350 L177,351.5 L175.5,353 L174.5,355 L173,356 L172,357.5 L170.5,358.5 L169.5,360 L168,361 L166,361 L165.5,363 L166.5,364.5 L166.5,366.5 L166.5,368.5 L167,370 L167.5,371.5 L168.5,373.5 L169,375 L169.5,377 L169.5,379 L169.5,380.5 L170,382 L170,384 L171,385.5 L171,387.5 L170.5,389.5 L169,391 L169,393 L168,395 L167.5,396.5 L166.5,398.5 L166,400 L164.5,401 L163,401 L162,402.5 L160.5,403.5 L158.5,403 L157,404.5 L155,405 L153,405 L151.5,405 L150,406 L148,407 L146.5,407 L144.5,407.5 L143,408.5 L141.5,408.5 L140,410 L138.5,411 L137,411 L135,411 L133.5,411.5 L132,412.5 L130,412.5 L128,412.5 L126.5,413 L124.5,412.5 L123,413 L121,413 L119.5,414 L117.5,414 L116,415 L114.5,416.5 L113,418 L111.5,417.5 L109.5,418 L108,418 L108,416 L108,414.5 L108,412.5 L108,411 L108,409 L108,407.5 L108,405.5 L108,404 L108,402 L108,400.5 L108,398.5 L108,397 L108,395 L110,395 L112,395.5 L114,395.5 L116,395 L116,393.5 L117,392 L117,390 L119,389.5 L120.5,389 L122,387.5 L122.5,385.5 L124.5,385 L124.5,382.5 L126.5,382 L127.5,380.5 L128,379 L126.5,378.5 L125,377 L123,377 L121,377 L119.5,376 L119,374.5 L118.5,373.5 L117,372.5 L117,370.5 L116.5,369 L116,367.5 L116,365.5 L116,364 L116.5,362 L116,360.5 L116,358.5 L116.5,357 L116.5,355.5 L117,354 L119,353 L121,353.5 L122.5,353.5 L124.5,352.5 L126.5,352 L128,352 L130,351 L132,351 L132.5,350 L133,348.5 L134.5,347.5 L134,346 L133,345Z M240,730 L241.5,729 L243,728 L244.5,727 L245.5,726 L247,725 L248.5,724 L249.5,723 L252,723 L252.5,721 L254.5,721 L256,719.5 L257.5,718.5 L259,717.5 L259.5,715.5 L261,715 L262.5,714 L264.5,713.5 L265.5,711.5 L267.5,710.5 L269,710.5 L271,710 L272.5,710 L274.5,710 L276.5,710 L278,709 L280,709.5 L281.5,708.5 L283.5,708.5 L285,708 L286.5,708 L288.5,707 L290,706.5 L292,706.5 L293.5,706 L295.5,706 L297,705.5 L298.5,705 L300.5,704.5 L302,703.5 L303.5,704 L305.5,703.5 L307.5,703.5 L309,703.5 L311,703.5 L312.5,703.5 L314,702.5 L316,703 L318,703.5 L319.5,704 L321.5,705 L323,705 L325,705 L326.5,706 L328,707 L330,707 L331.5,705.5 L333,705 L335,705 L336,703.5 L337.5,702.5 L339,701.5 L341,701 L342.5,702 L344.5,701.5 L346,702 L348,701.5 L350,702 L351.5,702 L353.5,701.5 L355,701 L357,701.5 L359,701.5 L360.5,702 L362.5,702 L364.5,702 L366,702.5 L367.5,701.5 L369.5,701.5 L371.5,700.5 L373,699.5 L375,699 L377,699.5 L378.5,698.5 L379.5,697 L381.5,697 L383,697 L384.5,696 L386,696 L388,696.5 L390,696 L391.5,697 L393.5,698 L395,698 L397,699 L398.5,700 L400.5,700 L402,701.5 L404,702 L405.5,702 L407.5,702.5 L407,704.5 L405.5,706 L405,707.5 L404,709 L402.5,710 L402,711.5 L401,712.5 L400,714 L400.5,715.5 L400,717.5 L399.5,719 L400.5,721 L400.5,723 L400,724.5 L400,726.5 L400,728 L400,730 L398,730 L396,730 L394.5,730 L392.5,730 L391,730 L389,730 L387,730 L385.5,730 L383.5,730 L382,730 L380,730 L378,730 L376.5,730 L374.5,730 L373,730 L371,730 L369,730 L367.5,730 L365.5,730 L364,730 L362,730 L360.5,730 L358.5,730 L356.5,730 L355,730 L353,730 L351.5,730 L349.5,730 L347.5,730 L346,730 L344,730 L342.5,730 L340.5,730 L338.5,730 L337,730 L335,730 L333.5,730 L331.5,730 L329.5,730 L328,730 L326,730 L324.5,730 L322.5,730 L321,730 L319,730 L317,730 L315.5,730 L313.5,730 L312,730 L310,730 L308,730 L306.5,730 L304.5,730 L303,730 L301,730 L299,730 L297.5,730 L295.5,730 L294,730 L292,730 L290.5,730 L288.5,730 L286.5,730 L285,730 L283,730 L281.5,730 L279.5,730 L277.5,730 L276,730 L274,730 L272.5,730 L270.5,730 L268.5,730 L267,730 L265,730 L263.5,730 L261.5,730 L259.5,730 L258,730 L256,730 L254.5,730 L252.5,730 L251,730 L249,730 L247,730 L245.5,730 L243.5,730 L242,730Z M188,352 L190,350.5 L192,350 L193,352 L194,354 L192.5,355 L192,356.5 L190.5,357.5 L190,359 L188.5,358.5 L187.5,357 L187,355.5 L188,353.5Z M167.5,248 L167.5,250 L166.5,251.5 L167,253.5 L166.5,255 L166,257 L165,258.5 L163.5,259.5 L163,262 L159.5,261 L159,263 L158,264.5 L156,263.5 L155,261.5 L155.5,260 L155.5,258.5 L154.5,256.5 L156.5,255.5 L158.5,255.5 L159.5,253.5 L161.5,254 L162,251.5 L163.5,250.5 L165,250 L166,248.5Z M152,268 L154,268 L155.5,270 L152,271 L152,273 L153.5,275 L151,276.5 L151,278 L152,280 L152.5,282 L151,284 L149.5,286 L151,288 L148.5,288 L148.5,286.5 L150.5,284.5 L148,283 L148.5,281.5 L149.5,279.5 L149,278 L148.5,276 L149.5,274.5 L152,273.5 L151,271.5 L152.5,270Z M161,272 L162.5,270.5 L164,270 L166,270 L168,270 L170,270 L170.5,273 L173,271.5 L174.5,273.5 L176,274 L177.5,275.5 L176.5,277.5 L177,279 L177,281 L175.5,282 L174.5,284 L173,284.5 L171,284 L170,282 L167.5,282.5 L166,281 L163.5,281 L162,279 L160.5,277.5 L160.5,275.5 L160.5,274Z M168,290 L169.5,288 L171.5,290 L173,288.5 L175,289 L177,290.5 L176,293 L178.5,293.5 L178,296 L177,297.5 L174.5,296 L174,299 L172,298 L170,297 L169.5,295 L167,295 L168.5,293.5 L166.5,291.5Z M411,317.5 L412,316 L414,315.5 L415,314 L417,314 L418,312 L419,311 L421.5,311.5 L423,310 L424.5,309 L426,310.5 L427,312 L428.5,313 L429,315 L428,316.5 L428.5,318 L427,319.5 L427.5,321.5 L427.5,323 L426.5,325 L426,326.5 L424,328 L423,330 L422,331.5 L420,331.5 L419.5,333.5 L418,334 L416.5,333 L415,332 L413.5,331.5 L412,330 L412,328 L410.5,327.5 L410,325.5 L409,324.5 L408,323 L408.5,321 L409.5,319Z M390,324.5 L391.5,323 L393.5,322.5 L395.5,323.5 L397,322.5 L398.5,323 L399.5,324.5 L401.5,324 L402.5,326 L403,327.5 L404,329.5 L404,331 L402.5,332.5 L401.5,334.5 L400,335.5 L398,336 L396.5,335 L394.5,335 L393,334 L391.5,333 L391,331 L389.5,330 L389.5,328 L390,326Z M407,338 L409,338.5 L410.5,338 L412.5,338 L414,337 L415.5,338.5 L417.5,338 L419,339 L420.5,340 L420.5,342 L419,343 L418.5,344.5 L418,346 L416,346.5 L414,346 L412,345.5 L410,346 L410,344.5 L408.5,343 L409,341 L407.5,339.5Z M521,262 L519,262.5 L517.5,263.5 L515.5,264 L513.5,263.5 L512,265 L510.5,266 L510,267.5 L509.5,269.5 L508.5,271 L507.5,272.5 L506.5,274 L505,275 L505.5,277 L505.5,278.5 L506.5,280.5 L506.5,282 L506,284 L507,285.5 L507,287.5 L508.5,286.5 L509.5,285 L511,284 L512,282 L512.5,280.5 L513.5,278.5 L514.5,277 L514.5,275 L515.5,273.5 L515.5,271.5 L517.5,270.5 L518,268.5 L518,267 L518.5,265 L520.5,264Z M490,279 L491.5,281 L490.5,282.5 L491,284.5 L490,286 L489.5,288 L488,289.5 L488,291.5 L486.5,292.5 L486,294.5 L486,296.5 L485,298 L484,299.5 L483.5,301.5 L482,303 L481.5,305 L482,303.5 L481,301.5 L481,300 L481,298 L483,296.5 L483,294.5 L484,293 L484.5,291.5 L485,289.5 L486,288 L486,286 L487,284.5 L488,282.5 L488.5,280.5Z M458,330 L460,330 L462,329 L463.5,330.5 L465,332 L464.5,333.5 L463,335 L463,337 L461,337 L459,336 L459,334 L457.5,332Z M557,252 L558.5,251.5 L560.5,251 L561.5,249 L563,248.5 L565,248.5 L566,247 L568,247 L569.5,246.5 L571.5,245.5 L573,245 L575,245.5 L576,246.5 L577,247.5 L578,249 L576.5,250.5 L575,251.5 L573.5,252.5 L571.5,252.5 L570,254 L568,255 L567,256.5 L565.5,257.5 L563.5,258.5 L562,259.5 L560,259 L558,258 L558.5,256 L557,254Z M564,236 L565.5,235 L567.5,235 L569,233.5 L570.5,233.5 L571.5,235.5 L573,236 L572.5,238 L570.5,239 L570,241 L568.5,241 L566.5,241 L565,242 L564,240 L564.5,238Z M382,592 L383.5,593 L385,594 L385,595.5 L384.5,597.5 L384,599 L385,600.5 L384.5,602.5 L384,604 L384,606 L383.5,607.5 L383.5,609.5 L383,611.5 L383,613 L382,615 L381,616.5 L380,618 L379.5,620 L378,621 L377,619.5 L376.5,618 L375.5,616.5 L375,615 L374,613.5 L373.5,611.5 L373,609.5 L374,607.5 L373,606 L374,604.5 L373.5,602.5 L375,601.5 L376,600 L376,598 L377.5,597 L378,595 L379.5,594.5 L380.5,593Z M372,628 L374,627 L375.5,627.5 L377.5,626.5 L379.5,627 L381,626.5 L383,626 L384,627.5 L385,629 L386.5,630 L388,630.5 L389,632 L389.5,634 L390,635.5 L390,637.5 L389,639.5 L389,641.5 L390,643 L390,645 L390.5,647 L389.5,648.5 L389,650.5 L389,652.5 L390,654.5 L389,656 L388.5,658 L389,660 L387.5,661.5 L387,663.5 L386.5,665 L384.5,666 L384,668 L382,668 L380.5,667.5 L378.5,666.5 L377,666.5 L375,666 L374,664 L372,663 L371,662 L370,660 L370,658 L370.5,656.5 L371,654.5 L371,652.5 L371,650.5 L371.5,649 L371,647 L371,645 L370.5,643.5 L369.5,642 L369,640 L369,638.5 L368,637 L368,635 L369,633.5 L369.5,631.5 L371,629.5Z M286,654 L288,653.5 L288.5,651.5 L290,650.5 L292,650 L293.5,649.5 L295.5,649 L297.5,649.5 L299,649 L300.5,650.5 L301,652.5 L302.5,654 L301,655 L300,656.5 L299.5,658.5 L298.5,660 L297,661 L295,660.5 L293,660.5 L291,660 L289.5,658.5 L288.5,657 L287,655.5Z M307,647 L308.5,647 L310.5,647 L312,646 L312.5,647.5 L314,648.5 L314.5,650 L313,651 L311.5,651.5 L310,652 L309,650.5 L308,649Z M270.5,666 L272,665 L273.5,664 L275,664 L275.5,665.5 L275.5,667.5 L276,669 L274,670 L273,671.5 L272,673 L272,671 L272,669.5 L271.5,667.5Z M426,683 L428,683 L430,683 L431.5,681.5 L433.5,682 L435,681.5 L436.5,682 L438.5,682 L440,682.5 L442,683.5 L444,683 L445.5,683 L447,683.5 L449,683 L451,683 L452.5,684 L454,682.5 L456,683 L458,683 L459.5,683 L461,682 L463,680.5 L465,680.5 L466.5,680 L468.5,680.5 L470,681.5 L469.5,683 L469,685 L468,686.5 L467.5,688.5 L467,690.5 L466.5,692 L467,694 L467,695.5 L466,697 L466.5,699 L467,701 L466.5,702.5 L465,703 L464,704.5 L463,705.5 L461,706 L460,705 L458,704.5 L457,703.5 L455.5,702.5 L454,702 L452.5,701 L451,700 L449,700 L447.5,698.5 L445.5,698 L444,697 L442,697 L441,695.5 L439,695 L438,694 L436.5,692.5 L435,692 L433.5,691 L431.5,690 L430,689 L428,688.5 L427,687 L427.5,685Z M573.5,668 L575,669 L577,667 L578,670 L580,669 L581.5,670 L583.5,670.5 L583.5,674 L586,674 L587,675.5 L587.5,677.5 L590,677.5 L589.5,680 L591,681 L592,683 L590,684.5 L588,684 L587,682.5 L584.5,682.5 L584,680 L583,678.5 L580.5,678.5 L579.5,677 L579,674.5 L577,674 L576,672.5 L576.5,670.5 L574.5,669.5Z"/><clipPath id="land"><use href="#coastp"/></clipPath></defs>
<rect width="800" height="800" fill="#fff"/>
<g clip-path="url(#fr)">
<g clip-path="url(#land)">
<polygon points="90,100 90,725 144,725 144,700 146,680 156,676 168,678 172,686 190,690 210,670 230,664 247,658 255,657 262,650 290,640 325,600 340,577 358,571 372,559 379,560 381,568 384,570 380,600 420,640 445,640 455,640 466,633 469,624 473,615 478,617 490,612 512,599 516,590 512.5,576 509,563.75 509,546.25 503.75,537.5 497,530 490,524 492,523.5 498,522.5 504,530 508.5,539 510,545 512,530 518,530 522,534 524,554 526,562 536,564 542,558 546,550 554,534 564,528 582,528 594,524 602,521 608.75,526 615.25,532.5 625,537.4 629.9,543.9 636.4,548.75 644.5,552 651,550.4 651,545.5 657.5,540.6 664,532.5 668,530 700,530 700,100" fill="#ffcede" stroke="#000" stroke-width="1"/>
<polygon points="110,590 127.5,595.5 136.5,600 144,607.5 145.5,615 142.5,622.5 138,630 135,634.5 133,641 131,645 110,645" fill="#fff" stroke="#000" stroke-width="1"/>
<polygon points="110,652 125,652 129,660 129,670 125,676 110,676" fill="#fff" stroke="#000" stroke-width="1"/>
<polygon points="180,640 190,638 198,642 206,654 206,662 194,668 182,668 178,660 178,648" fill="#fff" stroke="#000" stroke-width="1"/>
<polygon points="410,565 422.5,566.25 427.5,573.75 433.75,576.25 441.25,581.25 445,587.5 447.5,597.5 453.75,606.25 457.5,611.25 455,613.75 450,610 445,605 440,600 432.5,597.5 417.5,593.75 410,586.25 408.75,575" fill="#fff" stroke="#000" stroke-width="1"/>
<polygon points="421,609 427,608.5 432,615 434.5,622 429,621 424,614" fill="#fff" stroke="#000" stroke-width="1"/>
<polygon points="610,504 618,498 626,496 625,510 622,520 614,520 608,510" fill="#fff" stroke="#000" stroke-width="1"/>
<polygon points="670,500 674,495 679,497 681,505 681,520 678,530 670,530 669,515" fill="#fff" stroke="#000" stroke-width="1"/>
<polygon points="426,531 430,530 433,534 432,540 428,542 424,540" fill="#fff" stroke="#000" stroke-width="1"/>
<polygon points="548,583 553,581 556,585 553,589 549,588" fill="#ffcede" stroke="#000" stroke-width="1"/>
<polygon points="620,640 626,637 625.5,645 621,653 618,650" fill="#ffcede" stroke="#000" stroke-width="1"/>
<polygon points="628,672 636,675 642,680 643.5,690 638,693 632,690 628,682" fill="#ffcede" stroke="#000" stroke-width="1"/>
<polygon points="672,705 678,699 686,696 686,706 672,714 669,712" fill="#ffcede" stroke="#000" stroke-width="1"/>
<polygon points="300,100 627,100 627,119.5 625.9,137.5 627,144.25 629.25,152.1 633.75,160 632.6,164.5 633.75,171.25 642.75,175.75 648.4,173.5 649.5,167.9 651.75,171.25 652.9,178 648.4,182.5 645,187 639.4,191.5 645,195 649.5,191.5 652.9,187 660.75,184.75 667.5,182.5 674.25,181.4 681,183.6 700,184.75 700,291 684.75,291 679.5,292.75 672.5,299.75 663.75,305 655,308.5 644.5,305 634,301.5 620,301.5 614.75,303.25 609.5,315.5 606,326 600.75,340 595,345 587.5,355 580,357.5 575,355 570,352.5 567.5,355 564.4,367.5 562.5,370 555,382.5 552.5,385 549,404 541,411 534,407.5 524,409 520.6,415 520.6,432 515,424 507.5,419 496,413 481,405.6 474,412 472,436 466,446 461,458 459.4,470 465,473.75 476.25,470 480,474 480,476 474.4,496.25 470.6,511.25 461.25,509.4 453.75,502 450,515 446.25,522.5 440.6,520.6 431.25,515 420,511.25 401.25,515 392,512 386,518 382,520 377,516 373,510 365,503 359,500 355,497 340,503 334,506 342,520 340,530 336,540 332,541.25 321.5,546.5 314.5,541.25 307.5,527.25 298.75,520.25 290,527.25 283,527.25 279.5,520.25 281.25,495.75 276,487 267.25,487 267.25,509.75 262,511.5 255,506.25 246.25,494 242.75,480 239,466.5 236,458 250,440 290,420 300,380 320,300 300,100" fill="#ef7090" stroke="#000" stroke-width="1"/>
<polygon points="211,480 214,479 217,483 214,485.5 211,484" fill="#ef7090" stroke="#000" stroke-width="1"/>
<polygon points="228.5,342.5 233,341 236,345.5 260,350 290,400 280,430 265,440 258,434 255,428 250,424 245,426 242,432 236,436 228.5,436 227,425 225.5,410 225.5,384.5 230,372.5 230,357.5" fill="#ef7090" stroke="#000" stroke-width="1"/>
<polygon points="203,326 206,315 214,314 222.5,319.5 225,329 222.5,336 214,338.6 207.5,338 199,335" fill="#ef7090" stroke="#000" stroke-width="1"/>
<polygon points="196.4,274 203.2,276.7 204.6,282.2 202.6,291.9 199.1,287.7 196.4,280.9" fill="#ef7090" stroke="#000" stroke-width="1"/>
<polygon points="206,378.5 215,377 212,384.5 207.5,384.5" fill="#ef7090" stroke="#000" stroke-width="1"/>
<polygon points="160,245 172,245 168,256 160,266 150,264" fill="#ef7090" stroke="#000" stroke-width="1"/>
<polygon points="244.5,520.25 251.5,522 256.75,532.5 267.25,537.75 269,541.25 269,560.5 258.5,569.25 256.75,574.5 251.5,569.25 242.75,558.75 241,553.5 246.25,543 248,532.5" fill="#ef7090" stroke="#000" stroke-width="1"/>
<polygon points="492,452 500,450 506,454 509,462 506,468 501,472 496,468 491,462" fill="#ef7090" stroke="#000" stroke-width="1"/>
<polygon points="357.5,120 375,120 374,132 370,140 362,139 358,130" fill="#ffcede" stroke="#000" stroke-width="1"/>
<polygon points="393,198 399,196 403.5,206 401,216 396,217.5 392.5,210" fill="#ffcede" stroke="#000" stroke-width="1"/>
<polygon points="434,321 437,320 438.5,324 436,326 434,325" fill="#ffcede" stroke="#000" stroke-width="1"/>
<polygon points="253,456 258,454 263,456 263.5,466 261,474 257,473 255,466" fill="#ffcede" stroke="#000" stroke-width="1"/>
<polygon points="275,431 281,430 284,437 282,446 277,447 275,440" fill="#ffcede" stroke="#000" stroke-width="1"/>
<polygon points="317,475 322,472.5 328,475 329,481 323,485 317,482" fill="#ffcede" stroke="#000" stroke-width="1"/>
<polygon points="386,482 398,480 407,483 406,495 401,506 393,505 387,496" fill="#ffcede" stroke="#000" stroke-width="1"/>
<polygon points="423,474 428,471 433,476 434,484 429,485 424,480" fill="#ffcede" stroke="#000" stroke-width="1"/>
<polygon points="581.5,236.75 590.25,240.25 597.25,249 601.6,261.25 601.6,275.25 597.25,284 592,287.5 585,287 581,270 580,250" fill="#ffcede" stroke="#000" stroke-width="1"/>
<polygon points="646.25,260 655,258.6 653,266 651,271.75 648,265" fill="#ffcede" stroke="#000" stroke-width="1"/>
<polygon points="652,187 660.75,184.75 667.5,182.5 674.25,181.4 681,183.6 690,184.75 690,139 684.4,139.75 660,165 645,190" fill="#ffcede" stroke="#000" stroke-width="1"/>
<polygon points="419,396 420.5,396.5 422,395.5 423.5,396 425,395 425.5,396.5 427.5,396.5 427.5,398 429,399 429.5,400 429.5,402 430.5,403.5 431,405 430,406 430,408 428.5,409 427.5,410 426,409.5 424,409.5 422.5,410 421.5,409 419.5,408.5 419,407 417.5,406 416.5,404.5 416.5,403 416,401 417.5,400 417,398.5 418.5,398" fill="#f00" stroke="#000" stroke-width="1"/>
<polygon points="425.5,500 427,500 428.5,498.5 429.5,498 431,498 432.5,498.5 433,500 434.5,500.5 436,500.5 437,502 438,503 438.5,504 438.5,506 440,506.5 440,508 440.5,509.5 440.5,511 439.5,512 439.5,513.5 439,515 437,515.5 436,514.5 434,515 433,514.5 431,515 430.5,514 429.5,513 427.5,513.5 426.5,512 425.5,511 425,510 425,508.5 425.5,507 424.5,505.5 425.5,504.5 424.5,502.5 425,501.5" fill="#f00" stroke="#000" stroke-width="1"/>
<polygon points="434,682 442,681 446,685 444,692 437,693 434,688" fill="#0ff" stroke="#000" stroke-width="1"/>
<polygon points="376,720 379,711 385,706 390,709 393.5,720" fill="#0ff" stroke="#000" stroke-width="1"/>
<polygon points="327,720 327,712 330,711 334,716 335,720" fill="#0ff" stroke="#000" stroke-width="1"/>
</g>
<polyline points="422.5,118 422,120 422,122 422.5,124 422.5,126 423,128 422,129.5 422.5,131.5 422,133.5 422.5,135.5 422.5,137.5 423.5,139.5 423.5,141.5 424,143.5 423,145.5 423.5,147.5 425,149.5 425,151.5 424.5,153.5 425,155.5 425,157.5 425.5,159 427,160.5 427.5,162.5 429,164 429,166 430,167.5 429.5,169.5 429.5,171.5 428,173 426.5,174.5 427,176.5 426.5,178.5 425,180 425,182 426,183.5 426.5,185.5 426,187.5 427,189.5 427,191.5 427,193 427.5,195 425.5,196 424.5,198 424.5,200.5 422.5,201.5 421,203 420,205 418,206 416.5,207.5 415,209 413.5,210.5 412,212 410.5,213.5 409.5,215.5 407,216 406,218 405,220 404,222 404,224 404,226 405,227.5 405,229.5 406,231" fill="none" stroke="#000" stroke-width="2" stroke-linejoin="round"/>
<polyline points="613,137 612.5,139 612.5,141 612,143 612,145 612,147 611,148.5 610.5,150.5 610,152 609.5,154.5 608,156 607,158 606,159.5 604.5,160.5 604.5,163 603.5,164.5 604.5,166 606,167 607,169 607.5,171 608,173.5 608,175.75" fill="none" stroke="#000" stroke-width="2" stroke-linejoin="round"/>
<polyline points="616,139 617,140.5 618,142.5 617,144.5 618,146 617.5,148 617,150 616,152 615,154 614.5,156 613,158" fill="none" stroke="#000" stroke-width="2" stroke-linejoin="round"/>
<polyline points="620,168 621.5,169 623,170.5 624,172.5 625,174 626,176 626.5,178 628,180 628.5,182.5 630,184 631.5,186 633,188" fill="none" stroke="#000" stroke-width="2" stroke-linejoin="round"/>
<polyline points="638,192.5 640,191.5 641,189.5 641.5,187.5 643,186 645,185 647,184 647.5,182 649,181 650,179 652,178 652,175.5 654,174.5 656,173.5 656.5,171 657.5,169.5 658.5,168 660,166.5 661.5,165 663.5,164 664,162 666,161 667,159 668.5,158 670.5,157 671.5,155 672,153 674,152 676,151 676.5,149 677,147 679.5,146 681,144.5 681.5,142.5 682.5,141 684.4,139.75" fill="none" stroke="#000" stroke-width="2" stroke-linejoin="round"/>
<polyline points="652,176 653.5,174.5 656,174 658.5,173.5 660,172 662,173 664,174 666,173.5 668,174 670,175 672,174.5 674,174 676,172.5 678,172.5 680,171 681.5,170 684,170" fill="none" stroke="#000" stroke-width="2" stroke-linejoin="round"/>
<polyline points="641,221 640.5,223 641,225 639.5,227 639.5,229 638.5,231 638,233 637.5,235 636,236.5 634,237.5 632,238.5 632.5,241 630,242.5 630,245 631,246.5 631.5,248.5 634,249 634.5,251 636,252.5 636,255 637,257 638,259 637.5,261 637.5,263 636.5,265 635,266.5 635.5,268.5 634,270" fill="none" stroke="#000" stroke-width="2" stroke-linejoin="round"/>
<polyline points="592,270 594,270 595.5,268.5 597.5,268 599,267.5 601,267 602.5,266 604.5,265.5 606,265 607.5,264 609.5,264 611,263 613,264 614,265.5 615.5,267 617,268 619,268.5 620,270 621.5,271 623.5,271.5 625.5,271 627,272 628.5,271 630.5,271 632.5,271 634,270" fill="none" stroke="#000" stroke-width="2" stroke-linejoin="round"/>
<polyline points="634,270 635.5,271.5 636,273 636,275 636.5,277 637.5,279 637.5,281 638.5,283 638,285.5 639,287.5 640.5,289 640,291 641.5,292.5 642.5,294 643,296 643,298 644.5,299.5 644.5,301.5 645.5,303.5 646.25,305" fill="none" stroke="#000" stroke-width="2" stroke-linejoin="round"/>
<polyline points="550,305 552,304 554,305 556,303.5 557.5,303 559.5,302.5 562,303 564,303 565.5,301.5 567.5,301.5 569.5,301 571.5,302.5 573.5,301.5 575,303 577,302.5 579,303 581,302.5 583,303.5 585,303 587,303 589,302.5 591,303.5 593,301.5 595,302.5 596.5,301 599,302 601,301.5 602.5,302.5 603.5,304.5 606,304.5 606.5,306.5 608.5,307.5 609.5,309.5 611,310 612,312.5 614,313.5 616,314.5 617.5,316 619,317 620,319" fill="none" stroke="#000" stroke-width="2" stroke-linejoin="round"/>
<polyline points="620,319 621.5,318 623.5,317 625,316.5 627,316.5 629,315.5 630.5,314 632,314 634.5,314 635.5,312 637.5,311.5 639,310 641.5,310.5 643,310 644.5,308.5 645,306.5 646.25,305" fill="none" stroke="#000" stroke-width="2" stroke-linejoin="round"/>
<polyline points="646,305 648,306.5 649.5,307.5 651.5,307.5 653.5,308.5 655,310 656.5,311.5 658.5,312 660.5,313 661,315 662.5,316.5 664,317.5 665.5,319 667.5,319.5 669.5,320 671.5,319 673.5,320.5 675.5,320 677.5,321 679.5,321 681,322 683,321.5 684.75,322.5" fill="none" stroke="#000" stroke-width="2" stroke-linejoin="round"/>
<polyline points="620,319 620,321 620.5,323 622.5,324 624,325.5 624.5,327.5 623.5,330 625,331 625,333.5 622.5,334 622,336 620.5,337.5 618.5,337.5 617,339.5 615,340 615,342 614,344 614.5,346.5 613.5,348.5 612,350.5 612.5,352.5 610.5,352.5 608.5,353 607,353.5 605.5,355.5 603.5,356 601.5,355.5 599.5,356 598,357 596,358 594,357.5 592.5,358.5 590.5,358.5 588.5,359.5 586.5,360 584.5,359 582.5,360" fill="none" stroke="#000" stroke-width="2" stroke-linejoin="round"/>
<polyline points="547.5,330 548.5,332 548,334 549.5,335.5 549.5,337.5 551.5,337.5 553.5,337 555.5,338 557.5,337.5 559.5,339 562,338 564,339.5 566,339 568,338.5 570,339.5 570.5,341.5 570,343 569,345 570.5,347 570.5,349 569,350.5 570,352.5 568,352 566,352 564,353 562,353 560,353 557.5,353.5 555.5,353.5 553.5,352.5 551.5,352.5 549.5,352.5 547.5,352.5 545.5,353.5 543.5,352 541.5,352 539.5,352.5 537.5,352.5 535,352 533,351.5 531,352 529,352 527,352.5 525,352.5" fill="none" stroke="#000" stroke-width="2" stroke-linejoin="round"/>
<polyline points="570,352.5 572,353.5 573.5,354.5 575,356.5 577,356.5 579,357.5 581,359 582.5,360" fill="none" stroke="#000" stroke-width="2" stroke-linejoin="round"/>
<polyline points="582.5,360 583.5,362 582,364 584.5,365.5 583.5,367.5 583.5,369.5 585,371 584.5,373 585,375 585,377 585.5,379 585.5,380.5 585.5,382.5 584.5,384.5 584.5,386 584.5,388 585,390 584.5,392 582,393 581.5,395 580,396.5 578.5,398.5 577.5,400 578.5,401.5 578,404 580.5,405 580,407.5 580.5,409 582,410.5 582.5,412.5 582.5,414.5 582.5,416.5 584,418 584,420 584,422 585,424 585,426 586,428 586,430 586,432 586.5,433.5 587.5,435.5 587.5,437.5 586,439 585,440.5 584.5,442.5 583,443.5 582,445.5 580,446.5 579.5,448.5 578,450 577,452 576,453.5 575,455 574.5,457 573.5,459 571.5,460.5 571,462.5 570.5,464.5 569.5,466 568,468 567.5,470" fill="none" stroke="#000" stroke-width="2" stroke-linejoin="round"/>
<polyline points="582.5,415 584.5,414 586.5,414 588.5,414.5 590.5,413.5 592.5,413.5 594.5,413.5 596.5,413.5 598.5,413 600.5,411 602.5,411.5 604.5,412 606.5,411.5 608.5,410 610.5,409.5 612.5,410 614.5,410 616.5,410 618.5,411 620,412 622,412 624,412 626,412 628,413 629.5,414.5 631.5,414 633.5,414 635.5,414.5 637.5,415 639.5,415.5 641.5,416 643.5,415 645,416 647,415.5 649,416 651,416 653,416.5 655,416.5 657,416.5 658.5,416.5 660.5,417 662.5,417.5 664.5,418 666.5,417.5 668.5,418 670,419 672.5,418.5 674,419 676,419 678,420.5 680,420 679.5,418 681,416 682,414 681,411.5 682,409.5 682.5,407.5 684.5,406.5 686,405" fill="none" stroke="#000" stroke-width="2" stroke-linejoin="round"/>
<polyline points="685,322.5 683.5,324.5 682.5,326.5 682,328.5 680,330 680.5,332 681.5,333.5 681.5,335.5 682.5,337.5 683.5,339 684.5,341 685,343 686,345" fill="none" stroke="#000" stroke-width="2" stroke-linejoin="round"/>
<polyline points="567.5,470 566,468.5 564,468.5 562,468 560.5,467 559,465.5 557,466 555.5,464 553.5,463.5 551.5,463.5 550,462.5 548,462.5 546,463.5 544,464 542,463 540,464 538,464 536,464.5 534,464 532,464.5 530,465 528,465 526.5,463.5 524.5,463 522.5,462.5 521,461.5 518.5,461.5 517,460.5 515,460 513.5,458.5 511.5,458.5 510,457.5 508.5,456.5 507,455.5 505,455 503.5,454 501.5,453.5 499.5,453.5 497.5,453.5 496,452" fill="none" stroke="#000" stroke-width="2" stroke-linejoin="round"/>
<polyline points="450,360 450,362 450.5,364 450.5,365.5 451,367.5 452,369.5 452.5,371 453,373 452.5,375 451.5,377 452.5,379.5 452,381.5 450.5,383 450.5,385.5 450,387.5 451.5,389 451,391 452,393 453,394.5 454.5,396 454,398.5 455,400 455.5,402 455.5,404 455.5,406.5 456,408.5 456.5,410.5 457.5,412.5 458.5,414.5 458.5,416.5 458.5,419 460,420.5 458.5,423 460,425 461,426.5 462,428 462.5,430" fill="none" stroke="#000" stroke-width="2" stroke-linejoin="round"/>
<polyline points="462.5,430 464,431 466,432 466.5,434 468.5,435 470,436 472,437 474,438 476.5,438.5 478,440 480,440.5 481.5,442.5 484,443 486,444 488,444 490,445 491.5,446 493,447.5 493.5,449 495,450.5 496,452" fill="none" stroke="#000" stroke-width="2" stroke-linejoin="round"/>
<polyline points="462.5,430 460.5,430 458.5,430 456,430 454,430 452,429.5 450,430 448.5,431.5 446,431 444.5,432.5 443,434.5 441,435 438.5,435.5 437,436.5 435,437.5 433,438.5 431.5,440 430,441 427.5,441.5 426.5,443 424,443.5 422.5,445 422.5,447 423.5,449 424,451 423.5,453 425,455 426.5,456.5 427,458.5 429.5,458.5 430,460.5 431,462 433,463 433.5,465.5 435,466 437,467.5 437.5,469.5 439.5,470.5 440,473 441.5,474.5 442.5,476 444.4,477.5" fill="none" stroke="#000" stroke-width="2" stroke-linejoin="round"/>
<polyline points="444.5,477.5 446.5,478 448,478.5 450,479 452,478.5 454,479.5 455.5,478 458,478 459,476 461,475.5 463.5,475.5 465,473.5 466.5,472.5 468.5,472 470.5,472 472.5,473 474,474 476.5,474 478,475 480,475.5 482,476 484,477.5 486,477.5 488,478" fill="none" stroke="#000" stroke-width="2" stroke-linejoin="round"/>
<polyline points="496,452 497,454 497.5,456 497,458 498.5,460 498,462 496,463 495.5,465 494.5,466.5 492.5,467 491.5,469 490,470 489.5,472 489.5,474 488,476 488,478" fill="none" stroke="#000" stroke-width="2" stroke-linejoin="round"/>
<polyline points="444.5,477.5 443,479 441,480 440.5,482 438.5,482.5 436.5,484 436,486 435,488 433,489 432.5,490.5 431.5,492.5 431,494.5 430,496 428.5,497 427.5,499 425.5,500 423.5,500.5 421.5,500 419.5,501 417,500.5 415,502 413,501 411,502.5 409,502 406.5,501.5 405,502 403,502 401.5,503.5 399.5,504 397,503 395,502 393.5,503 391.5,503.5 390,505" fill="none" stroke="#000" stroke-width="2" stroke-linejoin="round"/>
<polyline points="359,500 357,501 354.5,501.5 353,503 352,505 350,506 349,508 347.5,509.5 347,512 346,513.5 345,515 344.5,517 343,518 342,520 340.5,521.5 339,523 337.5,525 337,527 337,529" fill="none" stroke="#000" stroke-width="2" stroke-linejoin="round"/>
<polyline points="359,500 361,500 363,502 365,502 366.5,500.5 368.5,500 370.5,499.5 372,498 374,498.5 375,500 377,500 378.5,500.5 380.5,499.5 382.5,500.5 384,501 386,502 388,503 390,505 388.5,507 386,508 386,510 387,511 387,513 388,514.5 390,515 392,517 393.5,518.5 394.5,519.5 395,521.5 396,523 397,521 399,520" fill="none" stroke="#000" stroke-width="2" stroke-linejoin="round"/>
<polyline points="339,523 341,524 343,525 345,525 346,527 347,528.5 348,530 349.5,531.5 349.5,533.5 350,535 351.5,535 353,536 355,536 356.5,534.5 358.5,534.5 360,534 361.5,533 363,532 364.5,531 366,530 367,528 368,526.5 370,525 370.5,527 372.5,528 373,530 374,532 375,533 377,534 378,535.5 379,537 379,535 379.5,533.5 381,532 381,530 381,528 382.5,526.5 383,525 384.5,525.5 386,526 388,525.5 390,526 392,527 394,528 394,526 395.5,524.5 396,523" fill="none" stroke="#000" stroke-width="2" stroke-linejoin="round"/>
<polyline points="399,520 400.5,518.5 401.5,517 403,516 405,515.5 407,515.5 408.5,515 410.5,514.5 412.5,514.5 414.5,515 416,516 418,515.5 420,516.5 422,515.5 423.5,517 425.5,516.5 427.5,517 429,518 431,518.5 433,519.5 435,519.5 436.5,521 439,520.5 441,521.5 442.5,522.5 444.5,521.5 446,522 448,522 450,521 452,522 453.5,520.5 455.5,521 457.5,520.5 459.5,520 461.5,520.5 463,520.5 465,520 467,518.5 468.5,519 470.5,519 472.5,518.75" fill="none" stroke="#000" stroke-width="2" stroke-linejoin="round"/>
<polyline points="480,516 481.5,514.5 480.5,511.5 482,510 482,508 481.5,506 481.5,504 480,502 480,500 478.5,498.5 476,497.5 474.5,496 476.5,495.5 476.5,493 479,492.5 480,490.5 481,488.5 482,487 483,485 484,483 486,482 487,480 488,478" fill="none" stroke="#000" stroke-width="2" stroke-linejoin="round"/>
<polyline points="480,490.5 482,491 483.5,492 485.5,492.5 487,493.5 488.5,494.5 490,496 492,496.5 494,498 496,498.5 498,499 500,499 502,499.5 504,500 506,499.5 507.5,498.5 509,497.5 511,496 512,494.5 514,494 516,493.5 518,493 520,492 521.5,490 524,490 526,489.5 527.5,488 529,486.5 531.5,486.5 533,485.5 534.5,484.5 536,482.5 538,482 540,482.5 542,483 544,482.5 546,482.5 548,482.5 550,482 552,483 554,483 556,483 558,484 560,484 562,484 563,486 565,486.5 565.5,488.5 567.5,489.5 568,491 570,492" fill="none" stroke="#000" stroke-width="2" stroke-linejoin="round"/>
<polyline points="562,484 561.5,482 563.5,480 563.5,478 562.5,476 564,474 563,472 564,470 566,469.5 567.5,470" fill="none" stroke="#000" stroke-width="2" stroke-linejoin="round"/>
<polyline points="570,492 572,492 574,491.5 576,492 578,492.5 580,492.5 582,492 584,493 586,493 588,494 590,494.5 592,495 594,496 596,496 598,496 600,495 602,494 604,494.5 606,494 608,492.5 610,492 612,491.5 614,491 616,490.5 617.5,488.5 620,488.5 622,488 623.5,486.5 625.5,486.5 628,487.5 629.5,486.5 631.5,486 631.5,488 631.5,490 632,492 632,494 632,496 631,498 631.5,500" fill="none" stroke="#000" stroke-width="2" stroke-linejoin="round"/>
<polyline points="570,492 568.5,493 567,494.5 565.5,496 564,497 562,498 560.5,500 560,502 558.5,504 558,506 556.5,507.5 557,510 555.5,511 556,513.5 553.5,514.5 554,516.5 553,518.5 552,520 550,521.5 550,523.5 549,525.5 546.5,527 546,529" fill="none" stroke="#000" stroke-width="2" stroke-linejoin="round"/>
<polyline points="631.5,500 633,501.5 634,503.5 636,504 637,505.5 638,507.5 640,508.5 641,510 641,512 643,513.5 642.5,516 644.5,517.5 644.5,519.5 644.5,521.5 645.5,524 645,526 643.5,528 644.5,530.5 644.5,532.5 644,534.5 645,536.5 645,538.5 645,540.5 644.5,542 646,543 647.5,544.5 649.5,544.5 651,545.5" fill="none" stroke="#000" stroke-width="2" stroke-linejoin="round"/>
<polyline points="631.5,486 633.5,486 635.5,487.5 637.5,488 639.5,488 642,487.5 644,489 646,489 648,490.5 650,490 651.5,491.5 652.5,493.5 653.5,495 655,496.5 656,498.5 657.5,500 658,502 658.5,503.5 660,505 661,506.5 662,508 662,510 664.5,511 664.5,513.5 666,515 667,516 668,518.5 669,520.5 669.5,522.5 670.5,524.5 672,526 673.5,526.5 675,527 677,527.6" fill="none" stroke="#000" stroke-width="2" stroke-linejoin="round"/>
<polyline points="440,524 441.5,522.5 444,522.5 446,521.5 448.5,522 450,521.5 452,520 454,519 456,519.5 458,519.5 460,518 462,518.5 464,518.5 466,518 468,518 470,517 472,517.5 474,516.5 476,516.5 478,516 480,516 481,518 480.5,520.5 482,522 481,524 480,526" fill="none" stroke="#000" stroke-width="2" stroke-linejoin="round"/>
<polyline points="480,526 478,526.5 477,527.5 475.5,529 474,530 472.5,531.5 471.5,534 470.5,536 470,538 468,539 466,539.5 464,539 462,539 460,540 458,540 456,541 454,542 452,541.5 450,542 448,541 446,541.5 444,540 442,540" fill="none" stroke="#000" stroke-width="2" stroke-linejoin="round"/>
<polyline points="440,524 441,526 441.5,528 442,530 443,532 442.5,534 442,536 441,538 442,540" fill="none" stroke="#000" stroke-width="2" stroke-linejoin="round"/>
<polyline points="480,526 482,526.5 484,524.5 486,524 488,524 489,525.5 491.5,525.5 492.5,526.5 494,528 495.5,529 497.5,529.5 498.5,530.5 500,532 502,532.5 504,533 506,534.5 508,534 510,534 512,534.5 514,536 516,536 518,535 520,535 522,534 523.5,533 525.5,532.5 526.5,530.5 528,530 530,529.5 532,531 534,531 536,531.5 538,532 540,532 542,531.5 544,529.5 546,529" fill="none" stroke="#000" stroke-width="2" stroke-linejoin="round"/>
<polyline points="476,550 478,550.5 480,551.5 482,551.5 484,552 486,551.5 488,551.5 490,550.5 492,551 494,549.5 496,550 498,551 500,551 502,550.5 504,552 506,551.5 508,552 510,551 512,550 514,550" fill="none" stroke="#000" stroke-width="2" stroke-linejoin="round"/>
<polyline points="476,550 476.5,552 476.5,554 477,556 478,558 479,560 479.5,562 481.5,563.5 482,566 483.5,567.5 484,569.5 485,571.5 486.5,572.5 488,574 489,575.5 490.5,577 492,578 493,580 494.5,581 496,582 497.5,583 499,584.5 499.5,586.5 501.5,587 503,588.5 504,590 505,592 506.5,592.5 508,594 509,595.5 510,597 512,598" fill="none" stroke="#000" stroke-width="2" stroke-linejoin="round"/>
<polyline points="522,534 522,536 521.5,538 521.5,540 520,542 519,544 518,546 516.5,547.5 516,550 514,550" fill="none" stroke="#000" stroke-width="2" stroke-linejoin="round"/>
<polyline points="514,550 514.5,552 515.5,554 516.5,556 517,558 518,560 519.5,561.5 519.5,563.5 520.5,565.5 521.5,567 523.5,568 524,570 523,572 522.5,574 522.5,576 522,578 520.5,579.5 519.5,581.5 518.5,584 518,586 516.5,587 516,589 514.5,590 514,592 514,594 512.5,596 512,598" fill="none" stroke="#000" stroke-width="2" stroke-linejoin="round"/>
<polyline points="512,598 513.5,597 515,595.5 515.5,593.5 517,592 519,591.5 520,590 522,590 524,588.5 526,588 528,588 530,589 531.5,590.5 532.5,592.5 534,594 534.5,596 536.5,597 538,598 536,599 534,599.5 532.5,601.5 530,602 528.5,603 528,605.5 527,607.5 525,608.5 524,610" fill="none" stroke="#000" stroke-width="2" stroke-linejoin="round"/>
<polyline points="546,529 546.5,531 545.5,532.5 545,534 544,536.5 542,537.5 543.5,538.5 544.5,540 545.5,542 547.5,543 548.5,544.5 548,546.5 549.5,548 549,550 551,551 551.5,553.5 553,555 554.5,556 556.5,557 558,558.5 559.5,559.5 561.5,559.5 563,561 565,560.5 566.5,561.75" fill="none" stroke="#000" stroke-width="2" stroke-linejoin="round"/>
<polyline points="537,599 537.5,601 538.5,602.5 540,604 542,605.5 542,607.5 544.5,607.5 546,606 548.5,606.5 550.5,606 552.5,605.5 554.5,606 556.5,605.5 558,605 560,604 561.5,603 563.5,603 565,602 565.5,600.5 565.5,598 567.5,596.5 568,594.5 568.5,592 568.5,590 568.5,588 567,586.5 567,584.5 565,583.5 565,581 565.5,579.5 566,577.5 567,576 568,574.5 568.5,572.5 568.5,570 567.5,568 567,566 567,564 566.5,561.75" fill="none" stroke="#000" stroke-width="2" stroke-linejoin="round"/>
<polyline points="525,611 526.5,612.5 527.5,614.5 529,616 530,618 531.5,619.5 531.5,621.5 532.5,623.5 533.5,625 535.5,626 537,626.5 538.5,628 540.5,628.5 541.5,630 542,632 542,634 542.5,635.5 542.5,637.5 544,639 543,641 542.5,643 542,645.5 542,648 540.5,649 539,650.5 538.5,652.5 537,653.5 535.25,654.75" fill="none" stroke="#000" stroke-width="2" stroke-linejoin="round"/>
<polyline points="542,607.5 543,609.5 541,611.5 541,613.5 540.5,616 540.5,618 541.5,620 541.5,622 542,624 541.5,626.5 542,628.5 543.5,630 546,629.5 548,629.5 549.5,630.5 551,631 553,632 555,632 556.5,631 558,630 559.5,628.5 561.5,628.5 563,627 564.5,626 567,626.5 568.5,625 570,624 572.5,623.5 574,621.5 574,619.5 573.5,617 572.5,615 573,613 572,611 570.5,610 569,608.5 568.5,606.5 567.5,605 566,604 565,602.25" fill="none" stroke="#000" stroke-width="2" stroke-linejoin="round"/>
<polyline points="544,639 545.5,637.5 547,636.5 549.5,637 551,636 553,635.5 555,634.5 556,633 558,632 560,631.5 561.5,630.5 563.5,630 565,629.5 566.5,627.5 568,626.5 570,626 572,626 574,625 575.5,624 577.5,623 580,624 582,623 584,622 586,621.5 588,620.5 590,621.5 592,621 594,619.5 596,620 598,620 600,620 602,620 604,618.5 606,618 608,616.5 610,616 612,616 614,615.5 615,614 616.5,612.5 618.5,612.5 620,611 621.75,610.5" fill="none" stroke="#000" stroke-width="2" stroke-linejoin="round"/>
<polyline points="566.5,562 568,563 568,565 569,566.5 570,568 569.5,570.5 569.5,572.5 570,574.5 570,576.5 571.5,576 573.5,577.5 575.5,576.5 577,577.5 579,577.5 581,578 583,578 584.5,578.5 586.5,577.5 588.5,578.5 590.5,578.5 592.5,578 594.5,578.5 596.5,578.5 598,580 600,580 602,579.5 604,580.5 605.5,581 607.5,581 609,579 611,578.5 613,578 615,577 617,576 618.5,575 620.5,574.5 622,572.5 624,572 626.5,573 628,571.5 630,572.5 632.5,571.5 634,571.5 636,572.5 638,573 639.5,574.5 642,574.5 643.5,576 645.5,577 647.5,577.5 649.4,578" fill="none" stroke="#000" stroke-width="2" stroke-linejoin="round"/>
<polyline points="602,612 604.5,612 606,610.5 608,610 609.5,609 612,610 613.5,609 616,608.5 617.5,610.5 619.5,610.5 622,610.5 623.5,611.5 624,613.5 626,614 627,615.5 628,617 629.5,615.5 632,615.5 633.5,614.5 635,613.5 636,611 638,610.5 639.5,612 641.25,612" fill="none" stroke="#000" stroke-width="2" stroke-linejoin="round"/>
<polyline points="622,610.5 621.5,612.5 620.5,614 621,616 620.5,618 620,620 620,622 620,624 622,626 623,627.5 622.5,630 623.4,632" fill="none" stroke="#000" stroke-width="2" stroke-linejoin="round"/>
<polyline points="289,426 290,427.5 290.5,429.5 292,431.5 292,433.5 293.5,435 296,435 297,437 298.5,438.5 300.5,439 302.5,439.5 304,441 305,442.5 307,443.5 308,445.5 309.5,446.5 309.5,449 311.5,450 313.5,450 315,449 317,448.5 319,449 320.5,448.5 320.5,450.5 321.5,452.5 323.5,454 323.5,456 325.5,457 327.5,458 328.5,460 331,460.5 332.5,462 334.5,462 336.5,463 339,462.5 341,461 343,462" fill="none" stroke="#000" stroke-width="2" stroke-linejoin="round"/>
<polyline points="302.5,418.5 304.5,417.5 306,418 308,419 310,418.5 312,418.5 314,418.5 315.5,418.5 317.5,418.5 319.5,419.5 321.5,420.5 323,421.5 325.5,422 327.5,422.5 329.5,423 331,424.5 333,425 335,425.5 337,426" fill="none" stroke="#000" stroke-width="2" stroke-linejoin="round"/>
<polyline points="352,372 353,374 352,376 352,377.5 353,379.5 352.5,381.5 353.5,383 352.5,385 353.5,387 352.5,388.5 351,390 350,392 349,393 347.5,394.5 348.5,396.5 349.5,398 350.5,400 350.5,402 349,403 346.5,403.5 345.5,405 343.5,406 342,407 340,408 338,409 337,411 337,413 338,414.5 338.5,416.5 338.5,418.5 339.5,420 339.5,422 339,424.5 340,426 338,426.5 337,428.5 335,429 334,430.5 335,432.5 336,434.5 337.5,436 339,437.5 341,439 341.5,441 340,442.5 340,444.5 338.5,446.5 338,448.5 337,450 336.5,452 335,453.5 336,455.5 334.5,457 334,459 335.5,460 337.5,460.5 339,461.5 341.5,461 343,462 344,464 346,465 347,467 349,468 351,468 353,468.5 355,469 357,470.5 359,469.5 361,471 363,471.5 365,473.5 367,474 366.5,476 367.5,477.5 367,479.5 365.5,481.5 364,483 363,485 362,487 361,489 360.5,491 361,493 360,495 360,497 360,498.5 359,500" fill="none" stroke="#000" stroke-width="2" stroke-linejoin="round"/>
<polyline points="348,530 348,532 349,534 349,536 349,538 350,540.5 352,542 351.5,544 352,546 352,548 351,550 351,552 350,554 350,556 350.5,558 351.5,560 351,562 351,564 350.5,566.5 349.5,568 349,570 348,572 348.5,574 347.5,575.5 346.5,577.5 346.5,579.5 347,581.5 346,583 346,585" fill="none" stroke="#000" stroke-width="2" stroke-linejoin="round"/>
<polyline points="427.5,517 428.5,519 429.5,521 429.5,523 430,525 430.5,526.5 430.5,528.5 431.5,530 432,532 431.5,534 431.5,536" fill="none" stroke="#000" stroke-width="2" stroke-linejoin="round"/>
<polyline points="230.5,586 232,587 232,589.5 234,590.5 235,592 236.5,593.5 239,592.5 240.5,595 242.5,594.5 244,596.5 246,597 248,597.5 250,598 252,597.5 254,596.5 255.5,597 258,598 259.5,596.5 261.5,597 263.5,596.5 265,597.5 267,598.5 269,598 271,599 272.5,599.5 274,601 275.5,602.5 277.5,602 279.5,603 281,603.5 283,604 285,603.5 287,603 288.5,602.5 291,604 292.5,602.5 294.5,603.5 296.5,602.5" fill="none" stroke="#000" stroke-width="2" stroke-linejoin="round"/>
<polyline points="132,613.5 134,613.5 136.5,614 139,613 141,613.5 143,613.5 145,612.5 147.5,612.5 149.5,612.5 151.5,612 153.5,611.5 156,612 157.5,613.5 160,613 162,613.5 163,615 163.5,617 165,618 167,618.5 169,619.5 171,621 170,623 168,624 166.5,625.5 165,627 163.5,628.5 162,630 161,632 159.5,633.5 159,636 159.5,638 158,639.5 157.5,641.5 158.5,643.5 157.5,645 158,647 156.5,649 156,651 155,652.5 153,653.5 151.5,654 150,655.5 151.5,657 152,659 152.5,661 153,663 154.5,664.5 155.5,667 156,669 155,671 154.5,673.5 153,675 154,676.5 154,678.5 154,680.5 153.5,682.5 154.5,684 154,686 154,688 153,690" fill="none" stroke="#000" stroke-width="2" stroke-linejoin="round"/>
<polyline points="369.5,341 371.5,340.5 373.5,342 376,341.5 378,342.5 380,342 382,343 384,343.5 386,342.5 388,344.5 390,344" fill="none" stroke="#000" stroke-width="2" stroke-linejoin="round"/>
<polyline points="612,616 612.5,618 613.5,619.5 614.5,621 614,623.5 615,625 616,626.5 616.5,628.5 616.5,630.5 616,632.5 617,634" fill="none" stroke="#000" stroke-width="2" stroke-linejoin="round"/>
<polyline points="206,685 207,685" fill="none" stroke="#000" stroke-width="2"/>
<polyline points="215,681.5 216,681.5" fill="none" stroke="#000" stroke-width="2"/>
<polyline points="484,626 490,627 493,630 487,631 484,626" fill="none" stroke="#000" stroke-width="2"/>
<polyline points="433,631 434,631" fill="none" stroke="#000" stroke-width="2"/>
<polyline points="446,635 447,635" fill="none" stroke="#000" stroke-width="2"/>
<polyline points="420,622 421,622" fill="none" stroke="#000" stroke-width="2"/>
<polyline points="418,642 420,642" fill="none" stroke="#000" stroke-width="2"/>
<polyline points="372,290 380,288 388,291 394,289" fill="none" stroke="#000" stroke-width="2"/>
<polyline points="531,577 534,577" fill="none" stroke="#000" stroke-width="2"/>
<polyline points="500,514 503,514" fill="none" stroke="#000" stroke-width="2"/>
<polyline points="603,474 605,474" fill="none" stroke="#000" stroke-width="2"/>
<polyline points="141,356 142,360" fill="none" stroke="#000" stroke-width="2"/>
<polyline points="142,364 143,368 143,372" fill="none" stroke="#000" stroke-width="2"/>
<polyline points="137,383 139,386" fill="none" stroke="#000" stroke-width="2"/>
<polyline points="140,350 146,354 153,357 158,356" fill="none" stroke="#000" stroke-width="2"/>
<polyline points="170,651 181,651" fill="none" stroke="#000" stroke-width="2"/>
<polyline points="178.5,651 178.5,666" fill="none" stroke="#000" stroke-width="2"/>
<polyline points="181.5,663 184.5,658.5 187.5,663" fill="none" stroke="#000" stroke-width="2"/>
<polyline points="196,591 199,592" fill="none" stroke="#000" stroke-width="2"/>
<polyline points="216,657 217,651 219,656" fill="none" stroke="#000" stroke-width="2"/>
<polyline points="211,603 213,603" fill="none" stroke="#000" stroke-width="2"/>
<polyline points="440,398 444,396" fill="none" stroke="#000" stroke-width="2"/>
<polyline points="446,399 447,399" fill="none" stroke="#000" stroke-width="2"/>
<polyline points="445,425 446,425" fill="none" stroke="#000" stroke-width="2"/>
<polyline points="432,388 433,388" fill="none" stroke="#000" stroke-width="2"/>
<polyline points="456,685 456,705 461,706 462.5,686" fill="none" stroke="#000" stroke-width="3" stroke-linejoin="round"/>
<polyline points="600.6,626.75 603.9,617 613.6,612.1 621.75,605.6 628.25,602.4 630,592.6 633,581.25 634.75,573.1 633,568.25 625,565 615.25,566.6 610.4,561.75 612,553.6 612,545.5 607,539.8 600.6,540.6 599,547.1 600.6,555.25 603.9,563.4 603.9,573.1 607,581.25 608.75,591 605.5,594.25 592.5,592.6 581.1,592.6 574.6,597.5 571.4,604 576.25,608.9 579.5,617 581.1,623.5" fill="none" stroke="#000" stroke-width="3" stroke-linejoin="round"/>
<polyline points="523,637 528,626 532,617 538,612 545,611 550,608 555,606 560,606 561,615 564,620 568,617 572,612 574,609 576,610 578,615 580,621 585,621 590,620 596,619 600,618" fill="none" stroke="#000" stroke-width="3" stroke-linejoin="round"/>
<polyline points="556,627 558,628 562,630 566,629 572,625 576,625 580,621" fill="none" stroke="#000" stroke-width="3" stroke-linejoin="round"/>
<polyline points="639,649 647,653 656,659.5 668.75,663.75 673,674.4 668.75,689.25 658,694.5 649.6,689.25 645.4,676.5 639,663.75 637,653 639,649" fill="none" stroke="#000" stroke-width="3" stroke-linejoin="round"/>
<polyline points="415,576.25 423.75,575.6 427.5,573.75 430,578.75 435,583.75 432.5,587.5 423.75,588.75 416.25,586.25 414.4,581.25 415,576.25" fill="none" stroke="#000" stroke-width="3" stroke-linejoin="round"/>
<polyline points="206,704 210,697 214,692 222,690 228,696 230,700" fill="none" stroke="#000" stroke-width="3" stroke-linejoin="round"/>
<polyline points="150,692 154,689 158,688 164,692 166,700" fill="none" stroke="#000" stroke-width="3" stroke-linejoin="round"/>
<polyline points="256,719 260,715 266,713 271,716 272,719" fill="none" stroke="#000" stroke-width="3" stroke-linejoin="round"/>
<polyline points="296,719 302,714 316.5,713 318,704 321,704" fill="none" stroke="#000" stroke-width="3" stroke-linejoin="round"/>
<polyline points="341,704 344,701 350,702 356,702 357,712 351,718 344,714 342,708" fill="none" stroke="#000" stroke-width="3" stroke-linejoin="round"/>
<polyline points="368,719 370,710 372,703 375,702.5" fill="none" stroke="#000" stroke-width="3" stroke-linejoin="round"/>
<polyline points="376,719 378,711 384,705 390,705 394,712 395,719" fill="none" stroke="#000" stroke-width="3" stroke-linejoin="round"/>
<polygon points="323.5,386 332,385 336,392 333,400.5 325,400 322.5,393" fill="#fff" stroke="#000" stroke-width="1.6"/>
<polygon points="634,132 647,128.5 650,137.5 645,144 636,143" fill="none" stroke="#000" stroke-width="1.6"/>
<polygon points="654,130 663,132 667,143 658,151 650,148" fill="none" stroke="#000" stroke-width="1.6"/>
<polygon points="661,135 670,138 668,149 664,146" fill="none" stroke="#000" stroke-width="1.6"/>
<polygon points="630,150 640,152 638,160 629,158" fill="none" stroke="#000" stroke-width="1.6"/>
<polygon points="636,122 644,121 646,126 639,127" fill="none" stroke="#000" stroke-width="1.6"/>
<polygon points="665,152 674,150 676,158 668,160" fill="none" stroke="#000" stroke-width="1.6"/>
<polygon points="632,634 640,630 650,628 658,630 664,633 669,636 662,639 652,642 642,642 634,640" fill="none" stroke="#000" stroke-width="1.6"/>
<polygon points="547.3,679.5 555.6,677.25 565.1,676 572.25,680.8 566,681 556,681.5 548,684" fill="none" stroke="#000" stroke-width="1.6"/>
<polygon points="426,224.5 433,229 440,226 447,227 449,233 444,241 437,246 430,250 426,250 428,243 426,236" fill="none" stroke="#000" stroke-width="1.6"/>
<polygon points="397,175 401,180 408,190 409,196 405,193 399,184" fill="none" stroke="#000" stroke-width="1.6"/>
<polygon points="628.75,234 635,233 641,240 640,252.5 634,251 630,244" fill="none" stroke="#000" stroke-width="1.6"/>
<polygon points="640,128 648,125 652,132 658,130 662,138 658,146 651,149 645,143 641,136" fill="none" stroke="#000" stroke-width="1.6"/>
<polygon points="655,150 662,152 668,158 664,166 657,163" fill="none" stroke="#000" stroke-width="1.6"/>
<polygon points="615,122 622,124 625,131 620,138 615,133" fill="none" stroke="#000" stroke-width="1.6"/>
<polygon points="336,525 340,523 344,526 342,530 337,531" fill="none" stroke="#000" stroke-width="1.6"/>
<polygon points="480,521 488,519 490,522 482,524" fill="none" stroke="#000" stroke-width="1.6"/>
<use href="#coastp" fill="none" stroke="#000" stroke-width="2" stroke-linejoin="round"/>
<clipPath id="hv0"><rect x="520" y="625" width="120" height="94"/></clipPath>
<use clip-path="url(#hv0)" href="#coastp" fill="none" stroke="#000" stroke-width="3" stroke-linejoin="round"/>
<clipPath id="hv1"><rect x="440" y="540" width="90" height="72"/></clipPath>
<use clip-path="url(#hv1)" href="#coastp" fill="none" stroke="#000" stroke-width="3" stroke-linejoin="round"/>
<clipPath id="hv2"><rect x="545" y="183" width="35" height="29"/></clipPath>
<use clip-path="url(#hv2)" href="#coastp" fill="none" stroke="#000" stroke-width="3" stroke-linejoin="round"/>
<clipPath id="hv3"><rect x="114" y="330" width="14" height="90"/></clipPath>
<use clip-path="url(#hv3)" href="#coastp" fill="none" stroke="#000" stroke-width="3" stroke-linejoin="round"/>
<clipPath id="hv4"><rect x="176" y="472" width="24" height="28"/></clipPath>
<use clip-path="url(#hv4)" href="#coastp" fill="none" stroke="#000" stroke-width="3" stroke-linejoin="round"/>
<clipPath id="hv5"><rect x="365" y="280" width="45" height="90"/></clipPath>
<use clip-path="url(#hv5)" href="#coastp" fill="none" stroke="#000" stroke-width="3" stroke-linejoin="round"/>
<clipPath id="hv6"><rect x="148" y="255" width="42" height="80"/></clipPath>
<use clip-path="url(#hv6)" href="#coastp" fill="none" stroke="#000" stroke-width="3" stroke-linejoin="round"/>
<path d="M349.5,121.1 L352.7,121.9 L355.4,119.9 M352.7,121.9 L354.4,124.0 M347.0,122.5 L350.0,123.7 L353.2,123.2 L356.4,123.5 L359.0,121.5 M345.7,125.0 L348.7,123.2 L351.7,124.9 L355.0,125.9 M351.7,124.9 L354.7,122.1 M343.9,126.3 L348.2,127.4 L351.1,130.9 M348.2,127.4 L349.2,130.9 M342.4,127.8 L345.0,125.8 L346.7,122.9 M340.2,131.1 L343.5,132.6 L346.8,133.9 M343.5,132.6 L345.9,131.1 M338.7,132.5 L340.0,135.3 L342.5,137.0 L345.5,136.5 L347.4,138.9 M336.9,134.1 L340.2,134.3 L343.5,133.3 L345.9,130.9 M343.5,133.3 L347.1,135.0 M333.5,136.3 L335.8,133.7 L339.4,133.4 M331.6,137.7 L333.3,137.6 L334.5,138.8 M330.8,140.2 L333.5,138.9 L334.2,136.0 M333.5,138.9 L335.9,139.6 M328.6,140.5 L331.8,141.3 L335.0,142.2 L338.2,142.0 M327.0,143.5 L329.7,145.6 L333.1,144.7 M326.1,144.0 L328.2,146.4 L331.3,146.6 L334.3,146.0 M331.3,146.6 L333.1,149.9 M322.8,146.1 L326.7,144.0 L330.6,142.0 M326.7,144.0 L330.1,144.7 M322.8,149.5 L325.6,151.2 L328.4,149.4 M325.6,151.2 L327.6,149.5 M323.0,151.6 L326.7,150.6 L330.4,149.9 M326.7,150.6 L328.6,153.0 M321.9,154.5 L325.6,154.2 L329.1,154.9 L332.6,153.9 M329.1,154.9 L329.7,150.5 M321.9,157.0 L324.8,158.2 L327.6,156.6 M322.8,160.3 L324.2,162.6 L326.6,161.6 M321.6,162.6 L324.2,161.3 L325.8,163.7 M324.2,161.3 L326.0,160.0 M323.2,164.7 L326.7,163.2 L330.1,161.5 L332.9,159.1 M322.6,167.4 L325.6,166.7 L327.1,164.0 L329.9,162.5 M327.1,164.0 L330.3,165.9 M322.1,170.8 L324.9,172.4 L327.7,174.0 L330.4,172.1 L333.5,172.8 M321.0,172.5 L323.2,170.6 L324.9,168.2 M319.6,175.6 L320.9,176.7 L321.7,178.3 M321.5,177.7 L323.0,177.2 L324.6,177.0 M321.5,179.8 L324.6,179.2 L327.5,178.2 L330.0,180.0 L333.1,180.0 M322.0,181.9 L326.0,181.0 L329.1,183.9 M323.6,185.6 L324.8,186.6 L326.1,185.6 M324.8,186.6 L325.6,187.6 M324.0,187.5 L325.7,187.9 L327.4,188.3 M322.6,189.1 L326.3,187.9 L329.5,185.5 M322.6,191.6 L325.5,189.9 L328.4,188.0 M322.9,194.3 L324.1,195.2 L325.5,195.6 M324.1,195.2 L324.7,196.2 M323.0,198.1 L326.0,199.6 L329.3,200.2 M326.0,199.6 L327.1,202.1 M323.0,199.6 L324.9,197.1 L327.4,195.3 L330.0,193.6 L333.2,193.5 M322.9,201.8 L324.4,202.5 L326.0,202.1 M323.7,205.4 L326.0,207.5 L329.0,208.2 L332.1,208.2 L335.0,207.0 M329.0,208.2 L332.9,205.1 M326.1,207.9 L329.3,205.8 L333.0,204.4 M326.8,209.8 L330.4,210.8 L332.3,207.6 L334.7,204.7 M327.9,212.1 L330.8,212.6 L333.5,211.2 M326.7,215.1 L328.7,215.2 L330.4,216.3 M328.7,215.2 L329.7,214.0 M326.5,216.9 L329.0,218.1 L331.7,217.8 M329.0,218.1 L330.3,219.8 M327.6,220.1 L330.1,218.2 L333.0,219.5 L336.0,220.5 L338.8,222.0 M333.0,219.5 L337.1,222.5 M325.8,222.3 L329.3,220.4 L332.7,218.4 L336.6,217.7 M326.4,225.7 L328.5,225.0 L330.6,225.5 M327.6,227.6 L330.4,229.8 L333.8,230.8 L337.3,231.7 M328.3,229.6 L331.1,229.1 L333.7,230.2 M331.1,229.1 L332.0,231.2 M328.7,231.8 L331.9,231.9 L335.1,231.4 L338.0,232.7 L341.0,233.9 M328.7,235.4 L332.5,236.0 L335.9,237.9 L339.6,236.9 M335.9,237.9 L338.1,233.9 M329.7,238.1 L330.9,236.7 L332.7,237.0 M329.3,240.2 L332.5,240.3 L333.8,237.3 L334.4,234.2 M333.8,237.3 L334.0,233.4 M332.0,241.2 L333.9,241.2 L335.9,241.3 M333.4,243.0 L336.5,242.4 L339.1,240.6 M335.4,245.8 L338.0,242.5 L342.1,241.2 M338.0,242.5 L341.2,243.5 M335.2,248.9 L337.9,250.9 L341.2,250.7 M326.0,154.0 L333.0,154.0 L341.0,154.5 L349.0,154.0 M325.0,175.0 L333.0,175.0 L341.0,176.0 L348.0,175.0 L353.0,170.0 L359.0,166.0 M331.0,140.0 L340.0,141.0 L348.0,142.0 M335.0,197.0 L343.0,194.0 L351.0,190.0 M330.0,210.0 L338.0,207.0 M337.7,250.5 L339.4,248.5 L341.5,247.0 M339.4,248.5 L341.3,247.7 M343.1,253.2 L342.6,252.2 L342.9,251.2 M346.7,257.0 L345.4,254.9 L346.6,252.8 M353.0,259.1 L351.7,257.3 L353.2,255.6 M351.7,257.3 L350.3,256.2 M359.7,258.1 L358.9,257.0 L359.5,255.8 M364.4,258.4 L364.6,257.1 L364.0,255.8 M375.9,252.0 L376.5,250.5 L377.1,248.9 M380.4,248.5 L379.8,247.0 L380.0,245.3 M379.8,247.0 L380.9,246.3 M480.0,203.0 L488.0,199.0 L495.0,194.0 M476.0,221.0 L486.0,219.0 L495.0,221.0 L503.0,226.0 M486.0,219.0 L492.0,216.0 L498.0,213.0 M497.0,214.0 L499.0,218.0 M436.0,159.0 L440.0,162.0 L444.0,167.0" fill="none" stroke="#000" stroke-width="2.6" stroke-linejoin="round" stroke-linecap="round"/>
<polygon points="308.761,419.381 306.48,421.718 304.461,419.318 306.308,418.246" fill="#ffcede" stroke="#000" stroke-width="1.8"/>
<polygon points="310.182,416.956 309.609,418.962 307.245,418.256 307.674,416.935 309.388,416.679" fill="#ffcede" stroke="#000" stroke-width="1.8"/>
<polygon points="305.174,416.971 305.236,418.848 302.593,418.353 303.298,416.097 304.403,416.009" fill="#ffcede" stroke="#000" stroke-width="1.8"/>
<polygon points="304.463,417.788 303.533,419.059 302.48,419.411 301.542,418.312 301.991,416.498 303.48,415.396" fill="#ffcede" stroke="#000" stroke-width="1.8"/>
<polygon points="310.274,412.554 309.315,415.126 307.535,413.507 309.188,411.609" fill="#ffcede" stroke="#000" stroke-width="1.8"/>
<polygon points="215.479,235.441 212.608,236.911 211.682,235.056 213.422,232.946" fill="#ffcede" stroke="#000" stroke-width="1.8"/>
<polygon points="211.371,234.633 211.4,236.941 207.878,237.084 207.559,234.334 209.045,233.354 210.513,233.446" fill="#ffcede" stroke="#000" stroke-width="1.8"/>
<polygon points="215.129,235.166 213.738,236.56 212.24,235.78 211.932,234.077 214.431,232.757" fill="#ffcede" stroke="#000" stroke-width="1.8"/>
<polygon points="211.687,228.507 209.59,231.296 206.494,230.346 206.849,227.526 208.816,226.851" fill="#ffcede" stroke="#000" stroke-width="1.8"/>
<polygon points="212.137,239.761 212.018,241.542 209.651,241.535 208.237,239.035 210.048,237.71 211.342,238.806" fill="#ffcede" stroke="#000" stroke-width="1.8"/>
<polygon points="217.688,231.318 216.427,232.403 214.651,230.453 215.964,229.431" fill="#ffcede" stroke="#000" stroke-width="1.8"/>
<polygon points="208.666,230.591 206.481,231.576 204.341,229.657 206.148,227.717" fill="#ffcede" stroke="#000" stroke-width="1.8"/>
<polygon points="160.998,270.558 159.496,273.842 157.594,274.47 156.81,272.174 156.543,269.687 159.213,270.06" fill="#ffcede" stroke="#000" stroke-width="1.8"/>
<polygon points="173.989,271.481 172.863,274.667 169.36,274.28 168.878,270.043 171.563,269.718" fill="#ffcede" stroke="#000" stroke-width="1.8"/>
<polygon points="164.049,271.558 162.176,274.267 160.739,273.916 161.165,271.285 162.735,270.997" fill="#ffcede" stroke="#000" stroke-width="1.8"/>
<polygon points="161.293,278.718 159.718,280.293 157.54,279.398 157.17,276.739 159.925,276.185" fill="#ffcede" stroke="#000" stroke-width="1.8"/>
<polygon points="179.12,278.087 177.073,278.76 174.964,277.63 177.57,275.036" fill="#ffcede" stroke="#000" stroke-width="1.8"/>
<polygon points="164.62,282.391 162.89,285.064 159.43,283.614 161.224,280.536 162.704,278.576" fill="#ffcede" stroke="#000" stroke-width="1.8"/>
<polygon points="163.877,269.427 162.706,272.475 161.192,271.794 158.576,270.724 160.236,266.608 162.982,268.216" fill="#ffcede" stroke="#000" stroke-width="1.8"/>
<polygon points="177.762,298.801 175.73,302.38 173.453,300.174 175.858,296.771" fill="#ffcede" stroke="#000" stroke-width="1.8"/>
<polygon points="181.753,293.758 179.271,296.432 175.457,294.705 176.005,292.206 179.525,290.621" fill="#ffcede" stroke="#000" stroke-width="1.8"/>
<polygon points="179.333,279.004 177.26,280.87 175.897,279.852 175.27,277.974 175.923,277.037 177.638,276.689" fill="#ffcede" stroke="#000" stroke-width="1.8"/>
<polygon points="169.797,291.456 167.188,292.389 164.722,290.823 167.324,288.22" fill="#ffcede" stroke="#000" stroke-width="1.8"/>
<polygon points="169.694,290.907 168.369,291.957 165.874,290.732 167.767,288.243" fill="#ffcede" stroke="#000" stroke-width="1.8"/>
<polygon points="161.979,276.759 160.082,278.868 158.055,277.186 156.493,274.86 161.45,273.017" fill="#ffcede" stroke="#000" stroke-width="1.8"/>
<polygon points="166.275,276.84 164.009,278.35 161.883,276.509 164.435,274.932" fill="#ffcede" stroke="#000" stroke-width="1.8"/>
<polygon points="161.954,286.96 161.028,287.989 158.712,286.797 159.084,285.062 160.406,284.051" fill="#ffcede" stroke="#000" stroke-width="1.8"/>
<polygon points="178.746,268.89 177.484,272.259 175.012,271.333 173.376,269.455 174.643,266.702 177.007,266.842" fill="#ffcede" stroke="#000" stroke-width="1.8"/>
<polygon points="168.23,293.658 165.736,295.689 162.077,292.813 165.057,290.358" fill="#ffcede" stroke="#000" stroke-width="1.8"/>
<polygon points="176.264,297.124 174.154,299.779 172.197,300.435 169.982,297.152 172.754,294.6 174.403,294.768" fill="#ffcede" stroke="#000" stroke-width="1.8"/>
<polygon points="167.022,306.829 165.399,308.702 162.871,306.298 165.635,304.537" fill="#ffcede" stroke="#000" stroke-width="1.8"/>
<polygon points="174.139,300.075 171.075,302.085 168.202,300.595 171.431,297.684" fill="#ffcede" stroke="#000" stroke-width="1.8"/>
<polygon points="165.49,316.136 165.285,318.627 162.398,318.584 162.671,315.149 165.418,314.279" fill="#ffcede" stroke="#000" stroke-width="1.8"/>
<polygon points="178.325,318.041 178.308,320.341 174.444,320.018 172.941,317.925 174.419,317.151 176.962,315.01" fill="#ffcede" stroke="#000" stroke-width="1.8"/>
<polygon points="184.58,303.958 183.765,305.172 182.541,306.672 180.426,303.864 181.612,302.109 184.339,302.833" fill="#ffcede" stroke="#000" stroke-width="1.8"/>
<polygon points="176.755,316.386 175.202,318.674 173.837,317.926 173.612,315.459 176.042,314.067" fill="#ffcede" stroke="#000" stroke-width="1.8"/>
<polygon points="175.766,303.74 173.779,305.238 173.398,303.484 174.313,302.291" fill="#ffcede" stroke="#000" stroke-width="1.8"/>
<polygon points="174.181,301.795 171.953,305.468 169.546,302.84 171.992,299.949" fill="#ffcede" stroke="#000" stroke-width="1.8"/>
<polygon points="184.775,328.59 183.488,329.655 182.752,329.63 181.105,327.543 182.028,327.163 183.976,326.513" fill="#ffcede" stroke="#000" stroke-width="1.8"/>
<polygon points="164.717,325.963 163.598,327.858 162.503,328.543 161.09,326.8 162.196,325.383 163.812,324.389" fill="#ffcede" stroke="#000" stroke-width="1.8"/>
<polygon points="166.634,330.295 165.054,332.079 163.358,331.069 165.451,329.18" fill="#ffcede" stroke="#000" stroke-width="1.8"/>
<polygon points="166.308,315.422 163.268,318.467 161.663,316.232 163.883,313.049" fill="#ffcede" stroke="#000" stroke-width="1.8"/>
<polygon points="175.748,321.692 175.059,325.498 170.655,325.09 171.771,320.709 173.398,319.597" fill="#ffcede" stroke="#000" stroke-width="1.8"/>
<polygon points="175.891,316.913 175.506,318.638 173.121,319.174 172.529,316.902 173.438,315.911 174.126,315.756" fill="#ffcede" stroke="#000" stroke-width="1.8"/>
<polygon points="170.36,319.767 169.336,320.378 167.821,321.239 167.038,319.678 167.776,317.889 169.567,318.69" fill="#ffcede" stroke="#000" stroke-width="1.8"/>
<polygon points="180.624,328.75 180.141,330.569 177.529,329.675 177.997,327.673 180.146,327.271" fill="#ffcede" stroke="#000" stroke-width="1.8"/>
<polygon points="154.125,281.659 152.154,283.698 149.044,282.332 150.565,280.204 152.465,279.898" fill="#ffcede" stroke="#000" stroke-width="1.8"/>
<polygon points="150.445,282.659 150.061,283.852 148.221,283.329 148.302,281.624 149.732,281.577" fill="#ffcede" stroke="#000" stroke-width="1.8"/>
<polygon points="150.665,266.709 149.184,267.169 145.639,266.841 146.364,264.4 148.421,263.153" fill="#ffcede" stroke="#000" stroke-width="1.8"/>
<polygon points="153.488,274.67 151.099,277.212 150.14,275.367 151.75,273.662" fill="#ffcede" stroke="#000" stroke-width="1.8"/>
<polygon points="152.306,273.999 151.266,275.375 148.963,275.874 148.799,273.978 149.289,272.091 151.338,272.608" fill="#ffcede" stroke="#000" stroke-width="1.8"/>
<polygon points="156.113,264.8 154.066,266.569 152.071,265.007 152.384,263.287 155.284,262.601" fill="#ffcede" stroke="#000" stroke-width="1.8"/>
<polygon points="603.29,647.766 602.359,648.635 601.088,648.17 601.323,646.805 602.66,646.842" fill="#fff" stroke="#000" stroke-width="1.6"/>
<polygon points="600.257,646.048 598.401,647.593 596.952,646.29 598.158,644.569" fill="#000" stroke="#000" stroke-width="1.6"/>
<polygon points="598.175,649.902 597.458,651.27 596.409,650.353 595.707,649.977 596.709,648.79 598.406,648.635" fill="#000" stroke="#000" stroke-width="1.6"/>
<polygon points="602.411,645.695 600.856,647.606 600.183,647.247 600.021,645.127 601.264,645.087" fill="#fff" stroke="#000" stroke-width="1.6"/>
<polygon points="597.37,643.954 597.054,645.794 594.941,643.762 595.989,642.804" fill="#000" stroke="#000" stroke-width="1.6"/>
<polygon points="599.526,657.714 598.526,659.244 597.077,659.023 596.554,658.389 597.42,656.498 598.366,656.544" fill="#000" stroke="#000" stroke-width="1.6"/>
<polygon points="605.633,659.181 604.647,659.916 603.408,659.285 604.039,658.192 604.71,658.08" fill="#fff" stroke="#000" stroke-width="1.6"/>
<polygon points="621.828,655.567 620.498,657.368 619.776,655.802 620.401,654.726" fill="#000" stroke="#000" stroke-width="1.6"/>
<polygon points="621.697,674.703 621.114,676.855 619.725,677.077 618.242,674.356 618.134,672.789 620.609,673.272" fill="#000" stroke="#000" stroke-width="1.6"/>
<polygon points="611.842,685.017 609.291,686.28 607.625,684.566 610.157,682.321" fill="#fff" stroke="#000" stroke-width="1.6"/>
<polygon points="621.076,679.999 619.134,681.073 618.406,679.77 619.789,678.775" fill="#000" stroke="#000" stroke-width="1.6"/>
<polygon points="617.257,678.712 616.754,680.1 614.638,680.254 613.064,677.613 614.062,676.442 616.817,676.786" fill="#000" stroke="#000" stroke-width="1.6"/>
<polygon points="614.413,655.461 613.031,657.814 611.583,657.279 611.589,654.777 612.614,654.964" fill="#fff" stroke="#000" stroke-width="1.6"/>
<polygon points="624.741,674.471 624.319,676.239 621.671,674.743 621.417,673.46 623.903,671.594" fill="#000" stroke="#000" stroke-width="1.6"/>
<polygon points="618.56,657.273 616.471,658.31 614.818,658.012 615.366,656.391 616.938,656.136" fill="#000" stroke="#000" stroke-width="1.6"/>
<polygon points="618.996,670.44 618.796,673.001 615.214,672.263 614.2,670.602 614.719,668.966 618.158,668.521" fill="#fff" stroke="#000" stroke-width="1.6"/>
<polygon points="619.938,654.593 617.906,656.735 617.362,655.283 618.667,653.915" fill="#000" stroke="#000" stroke-width="1.6"/>
<polygon points="588.637,707.976 588.109,709.021 586.501,708.66 586.532,707.363 588.269,707.046" fill="#000" stroke="#000" stroke-width="1.6"/>
<polygon points="645.756,700.468 645.206,701.169 643.75,700.246 644.971,699.272" fill="#fff" stroke="#000" stroke-width="1.6"/>
<polygon points="621.892,699.632 621.45,700.586 620.256,700.144 621.676,698.728" fill="#000" stroke="#000" stroke-width="1.6"/>
<polygon points="627.269,706.857 626.493,707.706 625.633,707.634 625.531,707.1 625.447,705.938 626.573,705.836" fill="#000" stroke="#000" stroke-width="1.6"/>
<polygon points="629.315,691.194 628.135,694.434 626.398,692.944 625.248,691.014 626.141,690.8 627.773,689.55" fill="#fff" stroke="#000" stroke-width="1.6"/>
<polygon points="595.797,710.929 595.257,711.52 593.846,711.908 594.041,711.2 594.332,709.8 595.231,710.431" fill="#000" stroke="#000" stroke-width="1.6"/>
<polygon points="620.689,697.34 619.351,698.627 617.698,697.918 617.593,695.332 619.383,695.036" fill="#000" stroke="#000" stroke-width="1.6"/>
<polygon points="602.794,705.13 602.065,707.521 599.924,707.023 599.819,704.808 601.675,703.476" fill="#fff" stroke="#000" stroke-width="1.6"/>
<polygon points="635.716,715.083 634.723,716.5 632.241,716.615 631.989,714.05 635.318,713.461" fill="#000" stroke="#000" stroke-width="1.6"/>
<polygon points="622.155,696.658 621.595,697.633 620.744,697.278 620.871,696.466 621.673,695.937" fill="#000" stroke="#000" stroke-width="1.6"/>
<polygon points="602.735,693.212 602.631,694.514 599.96,694.733 599.924,693.114 600.602,692.368 601.62,692.211" fill="#fff" stroke="#000" stroke-width="1.6"/>
<polygon points="647.678,693.658 646.844,695.798 644.646,694.585 645.084,692.572 646.893,692.497" fill="#000" stroke="#000" stroke-width="1.6"/>
<polygon points="622.758,695.836 621.943,697.652 619.71,697.148 618.979,696.326 620.607,694.086 621.901,693.239" fill="#000" stroke="#000" stroke-width="1.6"/>
<polygon points="636.814,691.517 636.457,692.74 635.369,692.051 635.165,691.11 636.027,690.547" fill="#fff" stroke="#000" stroke-width="1.6"/>
<polygon points="649.222,698.101 647.661,701.008 645.429,698.907 647.436,697.159" fill="#000" stroke="#000" stroke-width="1.6"/>
<polygon points="598.428,712.444 596.225,714.878 594.992,712.787 596.981,711.414" fill="#000" stroke="#000" stroke-width="1.6"/>
<polygon points="620.289,716.334 619.112,718.039 616.242,716.156 618.157,714.382" fill="#fff" stroke="#000" stroke-width="1.6"/>
<polygon points="630.068,700.369 629.155,701.913 627.861,701.541 627.876,699.663 628.67,698.669" fill="#000" stroke="#000" stroke-width="1.6"/>
<polygon points="615.449,692.243 613.737,693.402 612.367,693.101 611.994,690.588 613.341,690.426" fill="#000" stroke="#000" stroke-width="1.6"/>
<polygon points="599.379,711.629 598.147,713.234 596.821,712.498 597.452,711.016" fill="#fff" stroke="#000" stroke-width="1.6"/>
<polygon points="642.304,692.891 641.595,693.576 641.077,693.343 640.205,692.49 640.976,691.837 641.919,691.953" fill="#000" stroke="#000" stroke-width="1.6"/>
<polygon points="626.512,711.893 625.209,713.825 622.585,712.702 622.914,710.854 625.124,710.016" fill="#000" stroke="#000" stroke-width="1.6"/>
<polygon points="596.99,712.528 596.163,713.373 595.268,712.399 596.264,711.738" fill="#fff" stroke="#000" stroke-width="1.6"/>
<polygon points="634.042,690.204 632.643,691.573 631.507,690.089 632.758,689.443" fill="#000" stroke="#000" stroke-width="1.6"/>
<polygon points="598.843,673.825 597.751,675.745 595.399,674.616 597.581,672.474" fill="#000" stroke="#000" stroke-width="1.6"/>
<polygon points="602.58,675.521 601.852,677.405 601.164,676.833 599.374,676.37 600.086,674.49 602.302,674.978" fill="#fff" stroke="#000" stroke-width="1.6"/>
<polygon points="598.944,671.095 596.672,672.922 595.072,670.981 597.293,669.655" fill="#000" stroke="#000" stroke-width="1.6"/>
<polygon points="604.279,685.036 602.921,686.242 601.412,685.78 601.271,683.113 602.894,682.542" fill="#000" stroke="#000" stroke-width="1.6"/>
<polygon points="606.167,656.862 605.019,657.616 603.765,656.764 605.16,655.542" fill="#fff" stroke="#000" stroke-width="1.6"/>
<polygon points="597.5,658.563 597.434,659.698 596.304,659.79 595.138,658.776 596.097,658.054 597.063,658.171" fill="#000" stroke="#000" stroke-width="1.6"/>
<polyline points="352,120 351,121 349.5,121 349,123.5 347.5,123.5 346.5,124.5 345,125 344.5,126.5 342.5,126.5 342,128.5 341.5,130 339,129 339,131.5 338.5,133 337.5,134.5 335.5,134 334.5,135.5 334.5,137.5 332.5,137.5 331.5,138.5 330,139 329,140.5 328.5,142.5 327,143 325.5,144 324.5,145 324,146 324.5,148 322,149 321,150.5 321.5,152 320.5,153 321,155 322,156.5 320.5,158 322.5,159 323,160.5 322,162 321,163.5 322.5,165 323.5,166.5 322.5,168 323,169.5 321,171 322,172.5 321.5,174 320,175 319.5,176.5 320.5,178 320,179.5 322,180.5 321.5,182 324,183 321.5,185 324,186 324,187.5 323.5,189 323.5,190.5 322,192 323,194 321.5,195 322.5,197 323.5,198.5 322.5,200 322,202 324.5,202.5 323,204.5 325,205.5 326,206.5 324.5,209 327,209.5 327,211 327.5,212.5 328,214 326.5,215.5 328.5,217.5 327.5,219 327.5,220.5 325.5,222 328,223.5 326,225 326.5,226.5 327.5,228 327.5,229.5 327.5,231 327.5,232.5 329.5,233.5 329.5,235.5 330.5,236.5 328.5,239 330,240 332,240.5 332.5,242 333,244 333.5,245 334,247 336.5,246.5 337,248.5 337.5,250 339.5,250 340,252 341.5,252.5 342.5,253.5 343,255.5 344.5,255.5 345.5,257 347.5,257" fill="none" stroke="#000" stroke-width="3.2" stroke-linejoin="round"/>
<polygon points="536.835,203.879 535.898,205.714 533.942,204.655 535.677,202.697" fill="none" stroke="#000" stroke-width="1.8"/>
<polygon points="532.682,203.881 531.081,207.275 528.85,204.199 532.033,202.203" fill="none" stroke="#000" stroke-width="1.8"/>
<polygon points="530.022,201.031 528.303,203.006 526.958,203.002 526.938,200.514 528.285,199.724" fill="none" stroke="#000" stroke-width="1.8"/>
<polygon points="528.36,203.963 526.416,205.546 525.407,205.087 524.89,203.769 527.407,202.34" fill="none" stroke="#000" stroke-width="1.8"/>
<polygon points="527.962,200.608 525.904,202.438 523.648,200.276 525.868,197.881" fill="none" stroke="#000" stroke-width="1.8"/>
<polygon points="532.794,200.679 530.555,201.998 527.972,200.98 527.97,199.509 531.363,198.401" fill="none" stroke="#000" stroke-width="1.8"/>
<polygon points="614.899,133.384 612.62,135.742 609.721,134.53 610.276,131.038 613.035,130.393" fill="none" stroke="#000" stroke-width="1.8"/>
<polygon points="615.057,131.985 612.361,137.337 609.757,135.34 607.851,133.963 607.941,130.692 612.053,131.253" fill="none" stroke="#000" stroke-width="1.8"/>
<polygon points="628.765,121.248 626.12,124.544 622.376,123.759 623.697,120.452 625.428,118.642" fill="none" stroke="#000" stroke-width="1.8"/>
<polygon points="627.026,132.737 626.422,134.875 623.628,134.505 621.637,132.782 622.141,128.548 626.305,129.35" fill="none" stroke="#000" stroke-width="1.8"/>
<polygon points="622.182,125.489 618.183,127.829 614.605,124.639 617.449,121.577" fill="none" stroke="#000" stroke-width="1.8"/>
<polygon points="621.923,131.434 619.975,133.348 618.248,130.693 619.069,128.932" fill="none" stroke="#000" stroke-width="1.8"/>
<polygon points="613.91,128.036 611.049,129.293 609.479,126.819 611.818,125.463" fill="none" stroke="#000" stroke-width="1.8"/>
<polygon points="619.658,126.386 617.748,129.013 615.905,126.792 617.732,125.218" fill="none" stroke="#000" stroke-width="1.8"/>
<polygon points="615.997,128.135 614.478,128.893 612.835,127.321 613.518,125.632" fill="none" stroke="#000" stroke-width="1.8"/>
<polygon points="631.148,129.588 627.862,131.663 623.715,130.787 624.15,127.087 627.662,124.784" fill="none" stroke="#000" stroke-width="1.8"/>
<polygon points="611.071,131.791 609.068,136.538 604.532,132.568 609.009,128.443" fill="none" stroke="#000" stroke-width="1.8"/>
<polygon points="612.919,121.753 611.701,125.235 609.236,122.347 610.97,120.575" fill="none" stroke="#000" stroke-width="1.8"/>
<polygon points="619.763,124.362 617.959,126.034 616.56,123.802 618.62,122.701" fill="none" stroke="#000" stroke-width="1.8"/>
<polygon points="629.904,127.49 627.89,129.557 625.077,128.218 624.722,126.23 628.15,123.075" fill="none" stroke="#000" stroke-width="1.8"/>
<polygon points="621.129,162.31 620.489,163.548 619.384,162.823 619.735,161.67 620.865,161.147" fill="none" stroke="#000" stroke-width="1.8"/>
<polygon points="617.136,176.721 616.038,178.665 614.081,177.039 615.712,174.109" fill="none" stroke="#000" stroke-width="1.8"/>
<polygon points="621.728,177.196 620.657,178.167 619.253,177.727 620.033,176.473 621.447,175.969" fill="none" stroke="#000" stroke-width="1.8"/>
<polygon points="608.746,160.781 607.56,163.261 604.687,161.087 606.646,158.944" fill="none" stroke="#000" stroke-width="1.8"/>
<polygon points="612.652,160.519 611.513,162.331 610.242,163.05 608.867,160.672 609.306,158.345 612.304,159.185" fill="none" stroke="#000" stroke-width="1.8"/>
<polygon points="612.918,160.907 611.61,164.778 608.449,161.492 610.171,159.984" fill="none" stroke="#000" stroke-width="1.8"/>
<polygon points="672.398,156.663 669.363,161.848 665.489,157.406 667.268,153.831" fill="none" stroke="#000" stroke-width="1.8"/>
<polygon points="672.546,125.742 668.576,130.024 665.129,130.425 664.303,122.856 670.402,120.663" fill="none" stroke="#000" stroke-width="1.8"/>
<polygon points="650.197,150.22 648.054,153.945 645.774,153.584 643.422,150.138 644.083,148.479 648.171,148.169" fill="none" stroke="#000" stroke-width="1.8"/>
<polygon points="654.461,143.486 653.445,146.583 651.424,145.448 651.172,143.321 653.906,142.271" fill="none" stroke="#000" stroke-width="1.8"/>
<polygon points="646.142,126.986 644.175,128.435 640.435,128.24 638.554,126.426 638.997,123.402 643.63,123.311" fill="none" stroke="#000" stroke-width="1.8"/>
<polygon points="643.386,123.37 641.405,125.325 639.764,125.464 639.079,122.676 639.2,120.922 641.904,119.439" fill="none" stroke="#000" stroke-width="1.8"/>
<polygon points="672.42,130.495 670.832,131.781 669.681,131.839 667.687,131.166 669.233,128.34 670.603,127.967" fill="none" stroke="#000" stroke-width="1.8"/>
<polygon points="668.863,125.529 666.517,127.821 660.995,127.891 660.893,125.966 661.797,122.577 668.374,121.476" fill="none" stroke="#000" stroke-width="1.8"/>
<polygon points="652.923,128.466 651.104,131.53 646.445,130.398 647.541,126.544 650.139,124.086" fill="none" stroke="#000" stroke-width="1.8"/>
<polygon points="640.147,153.985 638.683,157.934 636.764,156.8 634.485,154.712 637.031,153.182 638.736,153.227" fill="none" stroke="#000" stroke-width="1.8"/>
<polygon points="673.131,130.471 672.41,132.41 670.061,131.496 670.641,129.282 672.719,129.36" fill="none" stroke="#000" stroke-width="1.8"/>
<polygon points="637.26,156.825 634.925,158.822 630.137,158.918 630.527,156.628 631.717,151.321 635.162,151.674" fill="none" stroke="#000" stroke-width="1.8"/>
<polygon points="637.392,122.366 632.011,126.124 629.062,122.595 631.973,120.422" fill="none" stroke="#000" stroke-width="1.8"/>
<polygon points="668.944,125.741 665.189,129.553 661.862,127.286 662.746,124.699 667.965,121.03" fill="none" stroke="#000" stroke-width="1.8"/>
<polygon points="642.366,147.83 638.747,152.886 633.139,149.627 634.523,145.486 637.511,144.806" fill="none" stroke="#000" stroke-width="1.8"/>
<polygon points="668.667,130.331 667.215,133.587 663.591,131.291 663.412,128.607 667.69,127.29" fill="none" stroke="#000" stroke-width="1.8"/>
<polygon points="216,462 217.5,462 218.5,461 219.5,463 218.5,464 217,464.5 217,463" fill="#000" stroke="#000" stroke-width="1"/>
<polygon points="221.5,467 223,466.5 224.5,466 226,467 226,468.5 224,468.5 223,470 222,468.5" fill="#000" stroke="#000" stroke-width="1"/>
<polygon points="451,548 452.5,547 454,548 455,549 456.5,550 455.5,552 456.5,553 458.5,553.5 459,555 460,556 460,558 460.5,559 462,560 463,561 465,561.5 465,563 465,565 466,566 466,567.5 465.5,569 466,571 466,572.5 468.5,573.5 468,575 466.5,576 465.5,573 464,574 463.5,572.5 462,572 462.5,569.5 460.5,569 460,567.5 460,566 458.5,565 458,563.5 457.5,562 455,562 455,560 455,558 454,557 452.5,555.5 452,554 452.5,552.5 452.5,551 449.5,550" fill="#000" stroke="#000" stroke-width="1"/>
<polygon points="478,584 479.5,584 481,585 482.5,585.5 484.5,585.5 486,585 488,585 488,588 489.5,588.5 492,587.5 493,589 494,590 494,592 497,591.5 497.5,593 497.5,595 499,596 501,596 500.5,598 499,599 497.5,598 495.5,598.5 494.5,597.5 493,596.5 491,597 489,597 488,596 486.5,595.5 485,594.5 484,593 482,593.5 480.5,592.5 479.5,591 478,590 477.5,588.5 476.5,587 478.5,585.5" fill="#000" stroke="#000" stroke-width="1"/>
<polygon points="476,592 477.5,593.5 479.5,593 481,593 482.5,593.5 482.5,595.5 484,596 485.5,596.5 486,598 484.5,598.5 484,600.5 482,600 481,599 479,599.5 478,598 477,597 478,595 477,593.5" fill="#000" stroke="#000" stroke-width="1"/>
<polygon points="578,641 579,642.5 580.5,642 582,642 582,643.5 582,645 582,646.5 584.5,647.5 584,649 582,648.5 581,650 580,649 579,647.5 579,646 579.5,644 578.5,642.5" fill="#000" stroke="#000" stroke-width="1"/>
<polygon points="585,640 586.5,641 588,640 587,642 588.5,643.5 590,644.5 591,646 590,648 588.5,648.5 587,649 587.5,647.5 585.5,646 584.5,645 584,643.5 584.5,641.5" fill="#000" stroke="#000" stroke-width="1"/>
<polygon points="591,638 592.5,638.5 594,638 596,638.5 596,640.5 596.5,641.5 596,643.5 596,645.5 598,646 597.5,648.5 595,648 593.5,647 595,644.5 594.5,643 591.5,642.5 591.5,641 591.5,639.5" fill="#000" stroke="#000" stroke-width="1"/>
<polygon points="242,184 243,185 244,186 243.5,187.5 242.5,189 242,190.5 241,192 241,193.5 240.5,195 239.5,196.5 239,198 238,199 237.5,200.5 237,202 237,204 236,205.5 236,207 235.5,208.5 235.5,210.5 235,212 233,212 233,210.5 232.5,209 233.5,208 233,206.5 233,205 231.5,204 230.5,202.5 230,201 230.5,199.5 230.5,198.5 231,197 232,196 232.5,194.5 234.5,194.5 235,193 236,192 235.5,190.5 236.5,189.5 237,188 238,186.5 239.5,186 241,185.5" fill="#000" stroke="#000" stroke-width="1"/>
<polygon points="150,143 151.5,142.5 151.5,140.5 153,140 154.5,139.5 156.5,140 158,139.5 159.5,139.5 161,139 162.5,139.5 164,140 164.5,141.5 165,143 164.5,144.5 163,145 162.5,146.5 161,147 160,148 159,149 158,150 156.5,149 155,148 153.5,147.5 152,148 151,147 151,145.5 150,144.5" fill="#000" stroke="#000" stroke-width="1"/>
<polygon points="156,160 157.5,160 159,161 159,162.5 159.5,164 160,165 160,167 161,168 159,168 158,167 158,165.5 157.5,164 156.5,163 156,161.5" fill="#000" stroke="#000" stroke-width="1"/>
<polygon points="149,266 150.5,264.5 152.5,266.5 154,265 153,266.5 153,268 152.5,269.5 153,271 154.5,272 154.5,273.5 153,275 155.5,276.5 154,278 153.5,279.5 155,281 155,283 153,284 154,285.5 151,286.5 151,288.5 152,290 150.5,290 149,291 147.5,290 146,288.5 147.5,287 148,285.5 147.5,284 148.5,282.5 148,281 149,279.5 148,278 146.5,276.5 146.5,275 148,273.5 148.5,272 147.5,270.5 149.5,269 148,267.5" fill="#000" stroke="#000" stroke-width="1"/>
<polygon points="155,262 155.5,260.5 157,260 158.5,259.5 159.5,258.5 160,257 159,256 159,254.5 160,252.5 158,252 156,252 155.5,253.5 156,256 154,256 153,257 153,258.5 154.5,259 156,260" fill="#000" stroke="#000" stroke-width="1"/>
<polygon points="157,151 158.5,152 160,152 159.5,153.5 160.5,155.5 160,157 158,157 157.5,155.5 157.5,154 157,152.5" fill="#000" stroke="#000" stroke-width="1"/>
<polygon points="549,186 551,185.5 551.5,188.5 553,189 554.5,189 556,190 558,190 558,192 560,192 559,195 562,194 562,196 563.5,196 564.5,198 566.5,197 568,197.5 569.5,198 570,200 572,200 572.5,201.5 573,203.5 575.5,202.5 576,204 577,205.5 574.5,207 575.5,208.5 575,210 573.5,210.5 572,211 571,211 569.5,208.5 568,210 566,210.5 565,209.5 564.5,207.5 563,206 562,205.5 560,206 559,205 558.5,203 556.5,202.5 555,202.5 554,201 553,200 552.5,198.5 551.5,197 549,197 548,196 548,194 549.5,192.5 547,190.5 549.5,189.5 548.5,187.5" fill="#000" stroke="#000" stroke-width="1"/>
<polygon points="506,212 507.5,211.5 509,212 510,213 510.5,214.5 509.5,216 511.5,217.5 511,219 509.5,220 510,221.5 509.5,223 508,224 507.5,222.5 505.5,221.5 505,220 504.5,218.5 505,217 506.5,215.5 506.5,213.5" fill="#000" stroke="#000" stroke-width="1"/>
<polygon points="454,179 455.5,179 457,177.5 459,178 459.5,179.5 461,180 461.5,181.5 462.5,182.5 464,183 463,184.5 462,186 460.5,185 459,184.5 457.5,185 456,184 455.5,183 455,181.5 454.5,180.5" fill="#000" stroke="#000" stroke-width="1"/>
<polygon points="413,128 414.5,128 415.5,127.5 417,128 418,129.5 418,131 416.5,130.5 415.5,131 414,131 413.5,129.5" fill="#000" stroke="#000" stroke-width="1"/>
<ellipse cx="602" cy="650" rx="2.0" ry="1.5" fill="#000"/>
<ellipse cx="600" cy="657" rx="1.5" ry="1.0" fill="#000"/>
<ellipse cx="594" cy="668" rx="1.5" ry="1.5" fill="#000"/>
<ellipse cx="612" cy="641" rx="2.0" ry="1.5" fill="#000"/>
<ellipse cx="588" cy="694" rx="1.5" ry="1.0" fill="#000"/>
<ellipse cx="604" cy="690" rx="1.5" ry="1.0" fill="#000"/>
<ellipse cx="584" cy="674" rx="1.5" ry="1.0" fill="#000"/>
<ellipse cx="626" cy="693" rx="1.5" ry="1.5" fill="#000"/>
<ellipse cx="575" cy="660" rx="1.5" ry="1.5" fill="#000"/>
<ellipse cx="566" cy="700" rx="1.5" ry="1.5" fill="#000"/>
<ellipse cx="558" cy="692" rx="1.5" ry="1.5" fill="#000"/>
<ellipse cx="546" cy="680" rx="1.5" ry="1.5" fill="#000"/>
<ellipse cx="540" cy="664" rx="1.5" ry="1.5" fill="#000"/>
<ellipse cx="531" cy="655" rx="1.5" ry="1.5" fill="#000"/>
<ellipse cx="484" cy="600" rx="1.0" ry="1.0" fill="#000"/>
<ellipse cx="492" cy="604" rx="1.0" ry="1.0" fill="#000"/>
<ellipse cx="478" cy="592" rx="1.0" ry="1.0" fill="#000"/>
</g>
<rect x="114.5" y="119.5" width="570" height="600" fill="none" stroke="#000" stroke-width="1"/>
<g filter="url(#crisp)">
<text x="113" y="400.5" font-size="9" font-weight="bold" textLength="35" lengthAdjust="spacingAndGlyphs">IRELAND</text>
<text x="198.5" y="394.7" font-size="9" font-weight="bold" textLength="40.5" lengthAdjust="spacingAndGlyphs">ENGLAND</text>
<text x="372" y="406.25" font-size="9" font-weight="bold" textLength="40.5" lengthAdjust="spacingAndGlyphs">GERMANY</text>
<text x="354.5" y="336.25" font-size="9" font-weight="bold" textLength="17" lengthAdjust="spacingAndGlyphs">DEN</text>
<text x="300.25" y="411" font-size="9" font-weight="bold" textLength="24.75" lengthAdjust="spacingAndGlyphs">NETH.</text>
<text x="292.75" y="441.75" font-size="9" font-weight="bold" textLength="24" lengthAdjust="spacingAndGlyphs">BELG.</text>
<text x="446.25" y="463" font-size="9" font-weight="bold" textLength="31.75" lengthAdjust="spacingAndGlyphs">CZECH.</text>
<text x="492.6" y="411" font-size="9" font-weight="bold" textLength="34.4" lengthAdjust="spacingAndGlyphs">POLAND</text>
<text x="504" y="478" font-size="9" font-weight="bold" textLength="37" lengthAdjust="spacingAndGlyphs">SLOVAK.</text>
<text x="488" y="518" font-size="9" font-weight="bold" textLength="40" lengthAdjust="spacingAndGlyphs">HUNGARY</text>
<text x="425" y="514" font-size="9" font-weight="bold" textLength="35" lengthAdjust="spacingAndGlyphs">AUSTRIA</text>
<text x="445" y="538" font-size="9" font-weight="bold" textLength="24" lengthAdjust="spacingAndGlyphs">SLOV.</text>
<text x="477" y="548" font-size="9" font-weight="bold" textLength="37" lengthAdjust="spacingAndGlyphs">CROATIA</text>
<text x="595.5" y="376.25" font-size="9" font-weight="bold" textLength="39.5" lengthAdjust="spacingAndGlyphs">BELARUS</text>
<text x="610" y="455" font-size="9" font-weight="bold" textLength="38" lengthAdjust="spacingAndGlyphs">UKRAINE</text>
<text x="565.5" y="336.25" font-size="9" font-weight="bold" textLength="44.5" lengthAdjust="spacingAndGlyphs">LITHUANIA</text>
<text x="531.25" y="348.75" font-size="9" font-weight="bold" textLength="35" lengthAdjust="spacingAndGlyphs">KALININ.</text>
<text x="565.9" y="298.1" font-size="9" font-weight="bold" textLength="29.4" lengthAdjust="spacingAndGlyphs">LATVIA</text>
<text x="586.9" y="237.8" font-size="9" font-weight="bold" textLength="36.5" lengthAdjust="spacingAndGlyphs">ESTONIA</text>
<text x="569" y="152.5" font-size="9" font-weight="bold" textLength="35.7" lengthAdjust="spacingAndGlyphs">FINLAND</text>
<text x="358" y="211.25" font-size="9" font-weight="bold" textLength="33.25" lengthAdjust="spacingAndGlyphs">NORWAY</text>
<text x="441.75" y="211.25" font-size="9" font-weight="bold" textLength="35.75" lengthAdjust="spacingAndGlyphs">SWEDEN</text>
<text x="262" y="522" font-size="9" font-weight="bold" textLength="34" lengthAdjust="spacingAndGlyphs">FRANCE</text>
<text x="340.5" y="517.6" font-size="9" font-weight="bold" textLength="29.75" lengthAdjust="spacingAndGlyphs">SWITZ.</text>
<text x="374.6" y="553.5" font-size="9" font-weight="bold" textLength="22.8" lengthAdjust="spacingAndGlyphs">ITALY</text>
<text x="189" y="652" font-size="9" font-weight="bold" textLength="25" lengthAdjust="spacingAndGlyphs">SPAIN</text>
<text x="125" y="652" font-size="9" font-weight="bold" textLength="25" lengthAdjust="spacingAndGlyphs">PORT.</text>
<text x="486.25" y="572.5" font-size="9" font-weight="bold" textLength="31.5" lengthAdjust="spacingAndGlyphs">BOSNIA</text>
<text x="532.6" y="577" font-size="9" font-weight="bold" textLength="24.4" lengthAdjust="spacingAndGlyphs">SERB.</text>
<text x="514.25" y="598" font-size="9" font-weight="bold" textLength="17.5" lengthAdjust="spacingAndGlyphs">MON.</text>
<text x="539.6" y="624" font-size="9" font-weight="bold" textLength="25.4" lengthAdjust="spacingAndGlyphs">MACED.</text>
<text x="524.75" y="640.75" font-size="9" font-weight="bold" textLength="14" lengthAdjust="spacingAndGlyphs">ALB.</text>
<text x="533.5" y="660" font-size="9" font-weight="bold" textLength="35" lengthAdjust="spacingAndGlyphs">GREECE</text>
<text x="568" y="538.2" font-size="9" font-weight="bold" textLength="39" lengthAdjust="spacingAndGlyphs">ROMANIA</text>
<text x="566.5" y="605.6" font-size="9" font-weight="bold" textLength="44.5" lengthAdjust="spacingAndGlyphs">BULGARIA</text>
<text x="641.25" y="518" font-size="9" font-weight="bold" textLength="17.75" lengthAdjust="spacingAndGlyphs">MOL.</text>
<text x="626" y="678.6" font-size="9" font-weight="bold" textLength="38.5" lengthAdjust="spacingAndGlyphs">TURKEY</text>
<text x="385.25" y="82" font-size="11" font-weight="bold" textLength="45" lengthAdjust="spacingAndGlyphs">EUROPE</text>
<text x="327.9" y="98.3" font-size="11" textLength="159.7" lengthAdjust="spacingAndGlyphs" >Temperature Anomaly (°C)</text>
<text x="354.9" y="111.2" font-size="11" textLength="99.7" lengthAdjust="spacingAndGlyphs" >September 2006</text>
<rect x="727.5" y="199.5" width="18" height="63" fill="#ff0000" stroke="#000" stroke-width="1"/>
<rect x="727.5" y="262.5" width="18" height="63" fill="#ef7090" stroke="#000" stroke-width="1"/>
<rect x="727.5" y="325.5" width="18" height="63" fill="#ffcede" stroke="#000" stroke-width="1"/>
<rect x="727.5" y="388.5" width="18" height="63" fill="#ffffff" stroke="#000" stroke-width="1"/>
<rect x="727.5" y="451.5" width="18" height="63" fill="#00ffff" stroke="#000" stroke-width="1"/>
<rect x="727.5" y="514.5" width="18" height="63" fill="#3c8ce6" stroke="#000" stroke-width="1"/>
<rect x="727.5" y="577.5" width="18" height="63" fill="#0000ff" stroke="#000" stroke-width="1"/>
<rect x="766" y="263.5" width="7.5" height="1.2" fill="#000"/><rect x="769.2" y="260.0" width="1.2" height="8" fill="#000"/>
<text x="776.3" y="269.5" font-size="16" textLength="11" lengthAdjust="spacingAndGlyphs">5</text>
<rect x="766" y="325.5" width="7.5" height="1.2" fill="#000"/><rect x="769.2" y="322.0" width="1.2" height="8" fill="#000"/>
<text x="776.3" y="331.5" font-size="16" textLength="11" lengthAdjust="spacingAndGlyphs">3</text>
<rect x="766" y="388.5" width="7" height="1.6" fill="#000"/><rect x="768.7" y="385.3" width="1.6" height="8" fill="#000"/>
<text x="776.5" y="394.5" font-size="16" style="font-family:NanumGothic,sans-serif" textLength="5" lengthAdjust="spacingAndGlyphs">1</text>
<rect x="766" y="451.0" width="7" height="1.6" fill="#000"/>
<text x="776.5" y="457.5" font-size="16" style="font-family:NanumGothic,sans-serif" textLength="5" lengthAdjust="spacingAndGlyphs">1</text>
<rect x="766" y="514.0" width="7" height="1.6" fill="#000"/>
<text x="776.3" y="520.5" font-size="16" textLength="11" lengthAdjust="spacingAndGlyphs">3</text>
<rect x="766" y="576.0" width="7" height="1.6" fill="#000"/>
<text x="776.3" y="582.5" font-size="16" textLength="11" lengthAdjust="spacingAndGlyphs">5</text>
<text x="431.8" y="730.2" font-size="8.3" textLength="151.5" lengthAdjust="spacingAndGlyphs">CLIMATE PREDICTION CENTER, NOAA</text>
<text x="431.8" y="739.4" font-size="8.3" font-weight="bold" textLength="128.2" lengthAdjust="spacingAndGlyphs">Computer generated contours</text>
<text x="431.8" y="749.9" font-size="8.3" font-weight="bold" textLength="114.3" lengthAdjust="spacingAndGlyphs">Based on preliminary data</text>
</g>
<g>
<clipPath id="lg"><circle cx="629.5" cy="761.5" r="29.5"/></clipPath>
<g clip-path="url(#lg)">
<rect x="595" y="728" width="70" height="70" fill="#00ffff"/>
<polygon points="595,725 665,725 665,751 659,751 647,762 640,767 646,767.5 646,769.5 633,771 627,774.5 620,775 625,771 614,763 600,752 595,752" fill="#fff"/>
<path d="M606.5,743 A29.5,29.5 0 0 1 652.5,743 L631,768 Z" fill="#0000ff"/>
</g>
<text x="616.2" y="749.5" font-size="10" fill="#fff" font-weight="bold" textLength="27" lengthAdjust="spacingAndGlyphs">NOAA</text>
<path id="ringtop" d="M599.36,769.58 A31.2,31.2 0 1 1 659.64,769.58" fill="none"/>
<path id="ringbot" d="M599.36,778.90 A34.8,34.8 0 0 0 659.64,778.90" fill="none"/>
<text font-size="4.6" font-weight="bold" fill="#0000ff"><textPath href="#ringtop" textLength="113" lengthAdjust="spacingAndGlyphs">NATIONAL OCEANIC AND ATMOSPHERIC ADMINISTRATION</textPath></text>
<text font-size="4.6" font-weight="bold" fill="#0000ff"><textPath href="#ringbot" textLength="71" lengthAdjust="spacingAndGlyphs">U.S. DEPARTMENT OF COMMERCE</textPath></text>
</g>
</svg></body></html>
